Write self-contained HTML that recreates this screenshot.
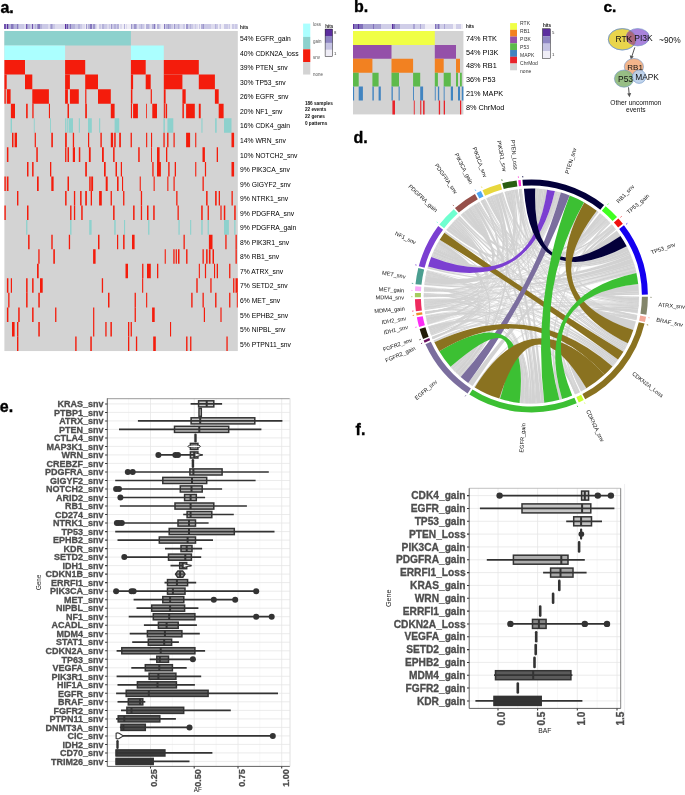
<!DOCTYPE html>
<html><head><meta charset="utf-8"><title>Figure</title>
<style>
html,body{margin:0;padding:0;background:#fff;}
svg{display:block;will-change:transform;}
svg text{font-family:"Liberation Sans",sans-serif;}
</style></head><body>
<svg width="685" height="795" viewBox="0 0 685 795">
<rect width="685" height="795" fill="#fff"/>
<g shape-rendering="crispEdges">
<rect x="4.40" y="24.1" width="1.30" height="5.2" fill="#7153AE"/>
<rect x="5.65" y="24.1" width="1.30" height="5.2" fill="#B5B2DA"/>
<rect x="6.91" y="24.1" width="1.30" height="5.2" fill="#5B2D9E"/>
<rect x="8.16" y="24.1" width="1.30" height="5.2" fill="#9E97CC"/>
<rect x="9.42" y="24.1" width="1.30" height="5.2" fill="#B5B2DA"/>
<rect x="10.67" y="24.1" width="1.30" height="5.2" fill="#8779BE"/>
<rect x="11.93" y="24.1" width="1.30" height="5.2" fill="#8779BE"/>
<rect x="13.18" y="24.1" width="1.30" height="5.2" fill="#9E97CC"/>
<rect x="14.44" y="24.1" width="1.30" height="5.2" fill="#B5B2DA"/>
<rect x="15.69" y="24.1" width="1.30" height="5.2" fill="#B5B2DA"/>
<rect x="16.95" y="24.1" width="1.30" height="5.2" fill="#8779BE"/>
<rect x="18.20" y="24.1" width="1.30" height="5.2" fill="#B5B2DA"/>
<rect x="19.46" y="24.1" width="1.30" height="5.2" fill="#CBC9E6"/>
<rect x="20.71" y="24.1" width="1.30" height="5.2" fill="#CBC9E6"/>
<rect x="21.97" y="24.1" width="1.30" height="5.2" fill="#CBC9E6"/>
<rect x="23.22" y="24.1" width="1.30" height="5.2" fill="#CBC9E6"/>
<rect x="24.48" y="24.1" width="1.30" height="5.2" fill="#DDDBEE"/>
<rect x="25.73" y="24.1" width="1.30" height="5.2" fill="#7153AE"/>
<rect x="26.99" y="24.1" width="1.30" height="5.2" fill="#9E97CC"/>
<rect x="28.24" y="24.1" width="1.30" height="5.2" fill="#B5B2DA"/>
<rect x="29.50" y="24.1" width="1.30" height="5.2" fill="#CBC9E6"/>
<rect x="30.75" y="24.1" width="1.30" height="5.2" fill="#CBC9E6"/>
<rect x="32.01" y="24.1" width="1.30" height="5.2" fill="#7153AE"/>
<rect x="33.26" y="24.1" width="1.30" height="5.2" fill="#CBC9E6"/>
<rect x="34.52" y="24.1" width="1.30" height="5.2" fill="#B5B2DA"/>
<rect x="35.77" y="24.1" width="1.30" height="5.2" fill="#CBC9E6"/>
<rect x="37.03" y="24.1" width="1.30" height="5.2" fill="#9E97CC"/>
<rect x="38.28" y="24.1" width="1.30" height="5.2" fill="#8779BE"/>
<rect x="39.54" y="24.1" width="1.30" height="5.2" fill="#B5B2DA"/>
<rect x="40.79" y="24.1" width="1.30" height="5.2" fill="#B5B2DA"/>
<rect x="42.05" y="24.1" width="1.30" height="5.2" fill="#CBC9E6"/>
<rect x="43.30" y="24.1" width="1.30" height="5.2" fill="#CBC9E6"/>
<rect x="44.55" y="24.1" width="1.30" height="5.2" fill="#CBC9E6"/>
<rect x="45.81" y="24.1" width="1.30" height="5.2" fill="#CBC9E6"/>
<rect x="47.06" y="24.1" width="1.30" height="5.2" fill="#CBC9E6"/>
<rect x="48.32" y="24.1" width="1.30" height="5.2" fill="#DDDBEE"/>
<rect x="49.57" y="24.1" width="1.30" height="5.2" fill="#B5B2DA"/>
<rect x="50.83" y="24.1" width="1.30" height="5.2" fill="#9E97CC"/>
<rect x="52.08" y="24.1" width="1.30" height="5.2" fill="#B5B2DA"/>
<rect x="53.34" y="24.1" width="1.30" height="5.2" fill="#CBC9E6"/>
<rect x="54.59" y="24.1" width="1.30" height="5.2" fill="#DDDBEE"/>
<rect x="55.85" y="24.1" width="1.30" height="5.2" fill="#DDDBEE"/>
<rect x="57.10" y="24.1" width="1.30" height="5.2" fill="#DDDBEE"/>
<rect x="58.36" y="24.1" width="1.30" height="5.2" fill="#DDDBEE"/>
<rect x="59.61" y="24.1" width="1.30" height="5.2" fill="#DDDBEE"/>
<rect x="60.87" y="24.1" width="1.30" height="5.2" fill="#DDDBEE"/>
<rect x="62.12" y="24.1" width="1.30" height="5.2" fill="#DDDBEE"/>
<rect x="63.38" y="24.1" width="1.30" height="5.2" fill="#DDDBEE"/>
<rect x="64.63" y="24.1" width="1.30" height="5.2" fill="#5B2D9E"/>
<rect x="65.89" y="24.1" width="1.30" height="5.2" fill="#9E97CC"/>
<rect x="67.14" y="24.1" width="1.30" height="5.2" fill="#7153AE"/>
<rect x="68.40" y="24.1" width="1.30" height="5.2" fill="#B5B2DA"/>
<rect x="69.65" y="24.1" width="1.30" height="5.2" fill="#8779BE"/>
<rect x="70.91" y="24.1" width="1.30" height="5.2" fill="#B5B2DA"/>
<rect x="72.16" y="24.1" width="1.30" height="5.2" fill="#B5B2DA"/>
<rect x="73.42" y="24.1" width="1.30" height="5.2" fill="#B5B2DA"/>
<rect x="74.67" y="24.1" width="1.30" height="5.2" fill="#CBC9E6"/>
<rect x="75.93" y="24.1" width="1.30" height="5.2" fill="#CBC9E6"/>
<rect x="77.18" y="24.1" width="1.30" height="5.2" fill="#CBC9E6"/>
<rect x="78.44" y="24.1" width="1.30" height="5.2" fill="#B5B2DA"/>
<rect x="79.69" y="24.1" width="1.30" height="5.2" fill="#CBC9E6"/>
<rect x="80.95" y="24.1" width="1.30" height="5.2" fill="#CBC9E6"/>
<rect x="82.20" y="24.1" width="1.30" height="5.2" fill="#DDDBEE"/>
<rect x="83.45" y="24.1" width="1.30" height="5.2" fill="#DDDBEE"/>
<rect x="84.71" y="24.1" width="1.30" height="5.2" fill="#EFEDF6"/>
<rect x="85.96" y="24.1" width="1.30" height="5.2" fill="#9E97CC"/>
<rect x="87.22" y="24.1" width="1.30" height="5.2" fill="#DDDBEE"/>
<rect x="88.47" y="24.1" width="1.30" height="5.2" fill="#B5B2DA"/>
<rect x="89.73" y="24.1" width="1.30" height="5.2" fill="#8779BE"/>
<rect x="90.98" y="24.1" width="1.30" height="5.2" fill="#8779BE"/>
<rect x="92.24" y="24.1" width="1.30" height="5.2" fill="#CBC9E6"/>
<rect x="93.49" y="24.1" width="1.30" height="5.2" fill="#9E97CC"/>
<rect x="94.75" y="24.1" width="1.30" height="5.2" fill="#CBC9E6"/>
<rect x="96.00" y="24.1" width="1.30" height="5.2" fill="#DDDBEE"/>
<rect x="97.26" y="24.1" width="1.30" height="5.2" fill="#EFEDF6"/>
<rect x="98.51" y="24.1" width="1.30" height="5.2" fill="#CBC9E6"/>
<rect x="99.77" y="24.1" width="1.30" height="5.2" fill="#CBC9E6"/>
<rect x="101.02" y="24.1" width="1.30" height="5.2" fill="#DDDBEE"/>
<rect x="102.28" y="24.1" width="1.30" height="5.2" fill="#B5B2DA"/>
<rect x="103.53" y="24.1" width="1.30" height="5.2" fill="#CBC9E6"/>
<rect x="104.79" y="24.1" width="1.30" height="5.2" fill="#CBC9E6"/>
<rect x="106.04" y="24.1" width="1.30" height="5.2" fill="#CBC9E6"/>
<rect x="107.30" y="24.1" width="1.30" height="5.2" fill="#DDDBEE"/>
<rect x="108.55" y="24.1" width="1.30" height="5.2" fill="#CBC9E6"/>
<rect x="109.81" y="24.1" width="1.30" height="5.2" fill="#DDDBEE"/>
<rect x="111.06" y="24.1" width="1.30" height="5.2" fill="#9E97CC"/>
<rect x="112.32" y="24.1" width="1.30" height="5.2" fill="#CBC9E6"/>
<rect x="113.57" y="24.1" width="1.30" height="5.2" fill="#B5B2DA"/>
<rect x="114.83" y="24.1" width="1.30" height="5.2" fill="#B5B2DA"/>
<rect x="116.08" y="24.1" width="1.30" height="5.2" fill="#CBC9E6"/>
<rect x="117.34" y="24.1" width="1.30" height="5.2" fill="#B5B2DA"/>
<rect x="118.59" y="24.1" width="1.30" height="5.2" fill="#EFEDF6"/>
<rect x="119.85" y="24.1" width="1.30" height="5.2" fill="#DDDBEE"/>
<rect x="121.10" y="24.1" width="1.30" height="5.2" fill="#DDDBEE"/>
<rect x="122.35" y="24.1" width="1.30" height="5.2" fill="#EFEDF6"/>
<rect x="123.61" y="24.1" width="1.30" height="5.2" fill="#B5B2DA"/>
<rect x="124.86" y="24.1" width="1.30" height="5.2" fill="#EFEDF6"/>
<rect x="126.12" y="24.1" width="1.30" height="5.2" fill="#DDDBEE"/>
<rect x="127.37" y="24.1" width="1.30" height="5.2" fill="#EFEDF6"/>
<rect x="128.63" y="24.1" width="1.30" height="5.2" fill="#EFEDF6"/>
<rect x="129.88" y="24.1" width="1.30" height="5.2" fill="#EFEDF6"/>
<rect x="131.14" y="24.1" width="1.30" height="5.2" fill="#9E97CC"/>
<rect x="132.39" y="24.1" width="1.30" height="5.2" fill="#CBC9E6"/>
<rect x="133.65" y="24.1" width="1.30" height="5.2" fill="#9E97CC"/>
<rect x="134.90" y="24.1" width="1.30" height="5.2" fill="#9E97CC"/>
<rect x="136.16" y="24.1" width="1.30" height="5.2" fill="#B5B2DA"/>
<rect x="137.41" y="24.1" width="1.30" height="5.2" fill="#DDDBEE"/>
<rect x="138.67" y="24.1" width="1.30" height="5.2" fill="#CBC9E6"/>
<rect x="139.92" y="24.1" width="1.30" height="5.2" fill="#CBC9E6"/>
<rect x="141.18" y="24.1" width="1.30" height="5.2" fill="#B5B2DA"/>
<rect x="142.43" y="24.1" width="1.30" height="5.2" fill="#CBC9E6"/>
<rect x="143.69" y="24.1" width="1.30" height="5.2" fill="#DDDBEE"/>
<rect x="144.94" y="24.1" width="1.30" height="5.2" fill="#EFEDF6"/>
<rect x="146.20" y="24.1" width="1.30" height="5.2" fill="#B5B2DA"/>
<rect x="147.45" y="24.1" width="1.30" height="5.2" fill="#B5B2DA"/>
<rect x="148.71" y="24.1" width="1.30" height="5.2" fill="#CBC9E6"/>
<rect x="149.96" y="24.1" width="1.30" height="5.2" fill="#DDDBEE"/>
<rect x="151.22" y="24.1" width="1.30" height="5.2" fill="#DDDBEE"/>
<rect x="152.47" y="24.1" width="1.30" height="5.2" fill="#B5B2DA"/>
<rect x="153.73" y="24.1" width="1.30" height="5.2" fill="#8779BE"/>
<rect x="154.98" y="24.1" width="1.30" height="5.2" fill="#CBC9E6"/>
<rect x="156.24" y="24.1" width="1.30" height="5.2" fill="#EFEDF6"/>
<rect x="157.49" y="24.1" width="1.30" height="5.2" fill="#B5B2DA"/>
<rect x="158.75" y="24.1" width="1.30" height="5.2" fill="#CBC9E6"/>
<rect x="160.00" y="24.1" width="1.30" height="5.2" fill="#DDDBEE"/>
<rect x="161.25" y="24.1" width="1.30" height="5.2" fill="#EFEDF6"/>
<rect x="162.51" y="24.1" width="1.30" height="5.2" fill="#EFEDF6"/>
<rect x="163.76" y="24.1" width="1.30" height="5.2" fill="#8779BE"/>
<rect x="165.02" y="24.1" width="1.30" height="5.2" fill="#CBC9E6"/>
<rect x="166.27" y="24.1" width="1.30" height="5.2" fill="#B5B2DA"/>
<rect x="167.53" y="24.1" width="1.30" height="5.2" fill="#9E97CC"/>
<rect x="168.78" y="24.1" width="1.30" height="5.2" fill="#B5B2DA"/>
<rect x="170.04" y="24.1" width="1.30" height="5.2" fill="#B5B2DA"/>
<rect x="171.29" y="24.1" width="1.30" height="5.2" fill="#CBC9E6"/>
<rect x="172.55" y="24.1" width="1.30" height="5.2" fill="#DDDBEE"/>
<rect x="173.80" y="24.1" width="1.30" height="5.2" fill="#9E97CC"/>
<rect x="175.06" y="24.1" width="1.30" height="5.2" fill="#CBC9E6"/>
<rect x="176.31" y="24.1" width="1.30" height="5.2" fill="#CBC9E6"/>
<rect x="177.57" y="24.1" width="1.30" height="5.2" fill="#B5B2DA"/>
<rect x="178.82" y="24.1" width="1.30" height="5.2" fill="#CBC9E6"/>
<rect x="180.08" y="24.1" width="1.30" height="5.2" fill="#DDDBEE"/>
<rect x="181.33" y="24.1" width="1.30" height="5.2" fill="#DDDBEE"/>
<rect x="182.59" y="24.1" width="1.30" height="5.2" fill="#CBC9E6"/>
<rect x="183.84" y="24.1" width="1.30" height="5.2" fill="#CBC9E6"/>
<rect x="185.10" y="24.1" width="1.30" height="5.2" fill="#EFEDF6"/>
<rect x="186.35" y="24.1" width="1.30" height="5.2" fill="#9E97CC"/>
<rect x="187.61" y="24.1" width="1.30" height="5.2" fill="#CBC9E6"/>
<rect x="188.86" y="24.1" width="1.30" height="5.2" fill="#CBC9E6"/>
<rect x="190.12" y="24.1" width="1.30" height="5.2" fill="#B5B2DA"/>
<rect x="191.37" y="24.1" width="1.30" height="5.2" fill="#CBC9E6"/>
<rect x="192.63" y="24.1" width="1.30" height="5.2" fill="#DDDBEE"/>
<rect x="193.88" y="24.1" width="1.30" height="5.2" fill="#DDDBEE"/>
<rect x="195.14" y="24.1" width="1.30" height="5.2" fill="#CBC9E6"/>
<rect x="196.39" y="24.1" width="1.30" height="5.2" fill="#DDDBEE"/>
<rect x="197.65" y="24.1" width="1.30" height="5.2" fill="#EFEDF6"/>
<rect x="198.90" y="24.1" width="1.30" height="5.2" fill="#CBC9E6"/>
<rect x="200.15" y="24.1" width="1.30" height="5.2" fill="#EFEDF6"/>
<rect x="201.41" y="24.1" width="1.30" height="5.2" fill="#B5B2DA"/>
<rect x="202.66" y="24.1" width="1.30" height="5.2" fill="#9E97CC"/>
<rect x="203.92" y="24.1" width="1.30" height="5.2" fill="#CBC9E6"/>
<rect x="205.17" y="24.1" width="1.30" height="5.2" fill="#CBC9E6"/>
<rect x="206.43" y="24.1" width="1.30" height="5.2" fill="#CBC9E6"/>
<rect x="207.68" y="24.1" width="1.30" height="5.2" fill="#CBC9E6"/>
<rect x="208.94" y="24.1" width="1.30" height="5.2" fill="#CBC9E6"/>
<rect x="210.19" y="24.1" width="1.30" height="5.2" fill="#CBC9E6"/>
<rect x="211.45" y="24.1" width="1.30" height="5.2" fill="#DDDBEE"/>
<rect x="212.70" y="24.1" width="1.30" height="5.2" fill="#DDDBEE"/>
<rect x="213.96" y="24.1" width="1.30" height="5.2" fill="#DDDBEE"/>
<rect x="215.21" y="24.1" width="1.30" height="5.2" fill="#B5B2DA"/>
<rect x="216.47" y="24.1" width="1.30" height="5.2" fill="#CBC9E6"/>
<rect x="217.72" y="24.1" width="1.30" height="5.2" fill="#EFEDF6"/>
<rect x="218.98" y="24.1" width="1.30" height="5.2" fill="#DDDBEE"/>
<rect x="220.23" y="24.1" width="1.30" height="5.2" fill="#CBC9E6"/>
<rect x="221.49" y="24.1" width="1.30" height="5.2" fill="#EFEDF6"/>
<rect x="222.74" y="24.1" width="1.30" height="5.2" fill="#EFEDF6"/>
<rect x="224.00" y="24.1" width="1.30" height="5.2" fill="#CBC9E6"/>
<rect x="225.25" y="24.1" width="1.30" height="5.2" fill="#CBC9E6"/>
<rect x="226.51" y="24.1" width="1.30" height="5.2" fill="#CBC9E6"/>
<rect x="227.76" y="24.1" width="1.30" height="5.2" fill="#DDDBEE"/>
<rect x="229.02" y="24.1" width="1.30" height="5.2" fill="#CBC9E6"/>
<rect x="230.27" y="24.1" width="1.30" height="5.2" fill="#EFEDF6"/>
<rect x="231.53" y="24.1" width="1.30" height="5.2" fill="#CBC9E6"/>
<rect x="232.78" y="24.1" width="1.30" height="5.2" fill="#CBC9E6"/>
<rect x="234.04" y="24.1" width="1.30" height="5.2" fill="#DDDBEE"/>
<rect x="235.29" y="24.1" width="1.30" height="5.2" fill="#CBC9E6"/>
<rect x="236.55" y="24.1" width="1.30" height="5.2" fill="#DDDBEE"/>
</g>
<rect x="4.4" y="30.95" width="233.4" height="320.1" fill="#D3D3D3"/>
<path d="M4.4 30.95h126.5v14.55h-126.5z" fill="#8DD1CD"/>
<text x="240.1" y="41.1" font-size="6.75" fill="#000">54% EGFR_gain</text>
<path d="M4.4 45.50h60.7v14.55h-60.7zM130.9 45.50h32.9v14.55h-32.9z" fill="#ABFFFF"/>
<text x="240.1" y="55.6" font-size="6.75" fill="#000">40% CDKN2A_loss</text>
<path d="M4.4 60.05h20.6v14.55h-20.6zM65.1 60.05h20.1v14.55h-20.1zM130.9 60.05h14.8v14.55h-14.8zM163.8 60.05h35.0v14.55h-35.0z" fill="#F41C0C"/>
<text x="240.1" y="70.2" font-size="6.75" fill="#000">39% PTEN_snv</text>
<path d="M4.4 74.60h2.3v14.55h-2.3zM25.0 74.60h7.3v14.55h-7.3zM65.1 74.60h4.8v14.55h-4.8zM85.2 74.60h12.8v14.55h-12.8zM130.9 74.60h2.2v14.55h-2.2zM145.7 74.60h5.0v14.55h-5.0zM163.8 74.60h18.6v14.55h-18.6zM198.8 74.60h16.1v14.55h-16.1z" fill="#F41C0C"/>
<text x="240.1" y="84.7" font-size="6.75" fill="#000">30% TP53_snv</text>
<path d="M4.4 89.15h1.4v14.55h-1.4zM6.8 89.15h3.8v14.55h-3.8zM32.3 89.15h16.6v14.55h-16.6zM65.1 89.15h2.8v14.55h-2.8zM69.9 89.15h8.9v14.55h-8.9zM85.2 89.15h1.2v14.55h-1.2zM98.0 89.15h12.8v14.55h-12.8zM130.9 89.15h1.5v14.55h-1.5zM150.7 89.15h1.2v14.55h-1.2zM163.8 89.15h1.8v14.55h-1.8zM182.4 89.15h3.3v14.55h-3.3zM214.9 89.15h3.8v14.55h-3.8z" fill="#F41C0C"/>
<text x="240.1" y="99.3" font-size="6.75" fill="#000">26% EGFR_snv</text>
<path d="M10.9 103.70h4.1v14.55h-4.1zM26.1 103.70h1.6v14.55h-1.6zM32.3 103.70h1.3v14.55h-1.3zM48.9 103.70h1.1v14.55h-1.1zM67.5 103.70h1.5v14.55h-1.5zM85.2 103.70h1.7v14.55h-1.7zM110.8 103.70h3.8v14.55h-3.8zM130.9 103.70h1.1v14.55h-1.1zM133.1 103.70h4.8v14.55h-4.8zM146.1 103.70h0.8v14.55h-0.8zM152.3 103.70h4.7v14.55h-4.7zM163.8 103.70h1.1v14.55h-1.1zM165.6 103.70h1.5v14.55h-1.5zM182.4 103.70h1.5v14.55h-1.5zM186.1 103.70h8.7v14.55h-8.7zM198.8 103.70h1.9v14.55h-1.9zM218.7 103.70h4.9v14.55h-4.9z" fill="#F41C0C"/>
<text x="240.1" y="113.8" font-size="6.75" fill="#000">20% NF1_snv</text>
<path d="M10.6 118.25h1.4v14.55h-1.4zM33.8 118.25h0.9v14.55h-0.9zM50.0 118.25h0.9v14.55h-0.9zM65.1 118.25h1.3v14.55h-1.3zM67.2 118.25h1.2v14.55h-1.2zM69.0 118.25h4.0v14.55h-4.0zM78.8 118.25h1.1v14.55h-1.1zM88.0 118.25h3.8v14.55h-3.8zM99.1 118.25h1.1v14.55h-1.1zM114.6 118.25h4.6v14.55h-4.6zM163.4 118.25h1.5v14.55h-1.5zM167.4 118.25h5.9v14.55h-5.9zM201.4 118.25h1.1v14.55h-1.1zM215.1 118.25h1.6v14.55h-1.6zM224.0 118.25h7.5v14.55h-7.5z" fill="#8DD1CD"/>
<text x="240.1" y="128.4" font-size="6.75" fill="#000">16% CDK4_gain</text>
<path d="M12.0 132.80h1.5v14.55h-1.5zM14.6 132.80h2.4v14.55h-2.4zM34.7 132.80h1.2v14.55h-1.2zM51.3 132.80h1.6v14.55h-1.6zM65.1 132.80h1.7v14.55h-1.7zM72.8 132.80h1.3v14.55h-1.3zM88.0 132.80h1.2v14.55h-1.2zM100.4 132.80h1.4v14.55h-1.4zM110.8 132.80h2.3v14.55h-2.3zM114.2 132.80h1.5v14.55h-1.5zM119.2 132.80h1.7v14.55h-1.7zM130.6 132.80h1.3v14.55h-1.3zM146.1 132.80h1.1v14.55h-1.1zM151.0 132.80h1.1v14.55h-1.1zM163.4 132.80h1.3v14.55h-1.3zM167.1 132.80h1.4v14.55h-1.4zM173.5 132.80h1.2v14.55h-1.2zM186.1 132.80h4.0v14.55h-4.0zM195.2 132.80h1.1v14.55h-1.1zM231.5 132.80h2.6v14.55h-2.6z" fill="#F41C0C"/>
<text x="240.1" y="142.9" font-size="6.75" fill="#000">14% WRN_snv</text>
<path d="M6.9 147.35h1.5v14.55h-1.5zM36.3 147.35h1.5v14.55h-1.5zM65.1 147.35h1.3v14.55h-1.3zM67.5 147.35h1.5v14.55h-1.5zM72.8 147.35h2.2v14.55h-2.2zM78.8 147.35h1.5v14.55h-1.5zM88.9 147.35h1.8v14.55h-1.8zM102.0 147.35h1.8v14.55h-1.8zM113.1 147.35h1.5v14.55h-1.5zM138.2 147.35h1.5v14.55h-1.5zM151.0 147.35h0.9v14.55h-0.9zM157.0 147.35h2.6v14.55h-2.6zM166.0 147.35h1.3v14.55h-1.3zM202.5 147.35h2.4v14.55h-2.4zM216.7 147.35h1.3v14.55h-1.3z" fill="#F41C0C"/>
<text x="240.1" y="157.5" font-size="6.75" fill="#000">10% NOTCH2_snv</text>
<path d="M27.0 161.90h1.5v14.55h-1.5zM32.1 161.90h1.5v14.55h-1.5zM50.0 161.90h1.3v14.55h-1.3zM85.2 161.90h1.7v14.55h-1.7zM104.0 161.90h1.7v14.55h-1.7zM115.5 161.90h1.5v14.55h-1.5zM120.8 161.90h1.2v14.55h-1.2zM152.3 161.90h1.3v14.55h-1.3zM157.0 161.90h3.9v14.55h-3.9zM168.2 161.90h1.4v14.55h-1.4zM174.7 161.90h1.3v14.55h-1.3zM195.2 161.90h1.1v14.55h-1.1zM204.9 161.90h1.2v14.55h-1.2zM231.5 161.90h2.6v14.55h-2.6z" fill="#F41C0C"/>
<text x="240.1" y="172.0" font-size="6.75" fill="#000">9% PIK3CA_snv</text>
<path d="M4.4 176.45h1.4v14.55h-1.4zM6.8 176.45h1.7v14.55h-1.7zM37.0 176.45h1.7v14.55h-1.7zM51.3 176.45h2.3v14.55h-2.3zM67.5 176.45h1.5v14.55h-1.5zM89.2 176.45h1.5v14.55h-1.5zM91.2 176.45h1.9v14.55h-1.9zM105.7 176.45h2.0v14.55h-2.0zM117.0 176.45h1.6v14.55h-1.6zM122.0 176.45h1.1v14.55h-1.1zM139.7 176.45h1.1v14.55h-1.1zM153.6 176.45h1.1v14.55h-1.1zM167.3 176.45h1.1v14.55h-1.1zM173.5 176.45h1.2v14.55h-1.2zM202.5 176.45h1.3v14.55h-1.3z" fill="#F41C0C"/>
<text x="240.1" y="186.6" font-size="6.75" fill="#000">9% GIGYF2_snv</text>
<path d="M17.0 191.00h1.4v14.55h-1.4zM65.1 191.00h1.5v14.55h-1.5zM73.9 191.00h1.3v14.55h-1.3zM80.1 191.00h1.5v14.55h-1.5zM85.2 191.00h1.7v14.55h-1.7zM90.7 191.00h1.3v14.55h-1.3zM99.1 191.00h2.7v14.55h-2.7zM110.6 191.00h1.3v14.55h-1.3zM123.1 191.00h1.3v14.55h-1.3zM140.8 191.00h1.3v14.55h-1.3zM176.2 191.00h1.3v14.55h-1.3zM206.1 191.00h1.5v14.55h-1.5zM215.1 191.00h1.6v14.55h-1.6zM218.7 191.00h1.3v14.55h-1.3zM231.5 191.00h1.3v14.55h-1.3z" fill="#F41C0C"/>
<text x="240.1" y="201.1" font-size="6.75" fill="#000">9% NTRK1_snv</text>
<path d="M4.4 205.55h1.4v14.55h-1.4zM27.0 205.55h1.5v14.55h-1.5zM70.1 205.55h1.4v14.55h-1.4zM73.9 205.55h1.3v14.55h-1.3zM81.2 205.55h1.5v14.55h-1.5zM113.1 205.55h1.5v14.55h-1.5zM133.1 205.55h1.5v14.55h-1.5zM140.8 205.55h1.3v14.55h-1.3zM147.0 205.55h1.5v14.55h-1.5zM153.2 205.55h1.5v14.55h-1.5zM177.5 205.55h1.3v14.55h-1.3zM201.2 205.55h1.5v14.55h-1.5zM207.6 205.55h1.3v14.55h-1.3zM220.4 205.55h1.2v14.55h-1.2zM223.8 205.55h1.5v14.55h-1.5zM234.2 205.55h1.5v14.55h-1.5z" fill="#F41C0C"/>
<text x="240.1" y="215.7" font-size="6.75" fill="#000">9% PDGFRA_snv</text>
<path d="M26.1 220.10h1.3v14.55h-1.3zM70.1 220.10h1.4v14.55h-1.4zM89.2 220.10h2.4v14.55h-2.4zM114.2 220.10h1.5v14.55h-1.5zM124.0 220.10h1.1v14.55h-1.1zM148.1 220.10h1.3v14.55h-1.3zM178.4 220.10h1.3v14.55h-1.3zM190.1 220.10h1.1v14.55h-1.1zM201.2 220.10h1.5v14.55h-1.5zM207.6 220.10h1.3v14.55h-1.3zM224.0 220.10h4.9v14.55h-4.9zM234.2 220.10h1.3v14.55h-1.3z" fill="#8DD1CD"/>
<text x="240.1" y="230.2" font-size="6.75" fill="#000">9% PDGFRA_gain</text>
<path d="M28.1 234.65h1.5v14.55h-1.5zM51.3 234.65h1.4v14.55h-1.4zM68.8 234.65h1.3v14.55h-1.3zM98.0 234.65h1.5v14.55h-1.5zM117.0 234.65h1.2v14.55h-1.2zM123.1 234.65h1.5v14.55h-1.5zM132.0 234.65h2.6v14.55h-2.6zM183.5 234.65h1.3v14.55h-1.3zM208.9 234.65h3.6v14.55h-3.6zM225.3 234.65h1.3v14.55h-1.3zM235.5 234.65h1.3v14.55h-1.3z" fill="#F41C0C"/>
<text x="240.1" y="244.8" font-size="6.75" fill="#000">8% PIK3R1_snv</text>
<path d="M38.3 249.20h1.3v14.55h-1.3zM53.3 249.20h1.6v14.55h-1.6zM93.1 249.20h2.5v14.55h-2.5zM164.7 249.20h1.1v14.55h-1.1zM173.3 249.20h1.3v14.55h-1.3zM175.7 249.20h1.2v14.55h-1.2zM178.0 249.20h1.5v14.55h-1.5zM186.1 249.20h1.4v14.55h-1.4zM202.5 249.20h1.3v14.55h-1.3zM206.1 249.20h1.5v14.55h-1.5zM208.9 249.20h1.6v14.55h-1.6zM212.5 249.20h1.5v14.55h-1.5zM235.5 249.20h1.3v14.55h-1.3z" fill="#F41C0C"/>
<text x="240.1" y="259.3" font-size="6.75" fill="#000">8% RB1_snv</text>
<path d="M37.0 263.75h1.7v14.55h-1.7zM125.5 263.75h2.5v14.55h-2.5zM142.1 263.75h1.3v14.55h-1.3zM147.0 263.75h3.8v14.55h-3.8zM157.0 263.75h1.3v14.55h-1.3zM198.8 263.75h1.1v14.55h-1.1zM204.9 263.75h1.2v14.55h-1.2zM214.0 263.75h1.1v14.55h-1.1zM216.7 263.75h1.3v14.55h-1.3zM229.1 263.75h1.3v14.55h-1.3z" fill="#F41C0C"/>
<text x="240.1" y="273.9" font-size="6.75" fill="#000">7% ATRX_snv</text>
<path d="M6.9 278.30h1.5v14.55h-1.5zM10.8 278.30h1.2v14.55h-1.2zM26.1 278.30h1.5v14.55h-1.5zM32.1 278.30h1.5v14.55h-1.5zM40.0 278.30h2.7v14.55h-2.7zM101.8 278.30h1.3v14.55h-1.3zM142.1 278.30h1.1v14.55h-1.1zM196.3 278.30h1.4v14.55h-1.4zM210.3 278.30h1.3v14.55h-1.3zM233.1 278.30h1.3v14.55h-1.3zM235.5 278.30h2.3v14.55h-2.3z" fill="#F41C0C"/>
<text x="240.1" y="288.4" font-size="6.75" fill="#000">7% SETD2_snv</text>
<path d="M8.2 292.85h1.3v14.55h-1.3zM26.1 292.85h1.5v14.55h-1.5zM38.3 292.85h1.5v14.55h-1.5zM108.0 292.85h1.5v14.55h-1.5zM134.6 292.85h1.3v14.55h-1.3zM146.1 292.85h1.1v14.55h-1.1zM191.2 292.85h1.4v14.55h-1.4zM202.5 292.85h1.3v14.55h-1.3zM215.1 292.85h1.4v14.55h-1.4zM229.1 292.85h1.3v14.55h-1.3zM236.8 292.85h1.0v14.55h-1.0z" fill="#F41C0C"/>
<text x="240.1" y="303.0" font-size="6.75" fill="#000">6% MET_snv</text>
<path d="M6.9 307.40h1.5v14.55h-1.5zM18.2 307.40h1.5v14.55h-1.5zM32.1 307.40h1.5v14.55h-1.5zM55.1 307.40h1.3v14.55h-1.3zM93.1 307.40h1.2v14.55h-1.2zM134.6 307.40h1.3v14.55h-1.3zM152.1 307.40h2.6v14.55h-2.6zM203.8 307.40h1.2v14.55h-1.2zM220.4 307.40h1.2v14.55h-1.2z" fill="#F41C0C"/>
<text x="240.1" y="317.5" font-size="6.75" fill="#000">5% EPHB2_snv</text>
<path d="M12.0 321.95h2.6v14.55h-2.6zM17.0 321.95h1.4v14.55h-1.4zM38.3 321.95h1.5v14.55h-1.5zM93.1 321.95h1.2v14.55h-1.2zM105.3 321.95h1.3v14.55h-1.3zM110.4 321.95h1.5v14.55h-1.5zM128.0 321.95h1.3v14.55h-1.3zM130.6 321.95h1.3v14.55h-1.3zM170.0 321.95h1.1v14.55h-1.1z" fill="#F41C0C"/>
<text x="240.1" y="332.1" font-size="6.75" fill="#000">5% NIPBL_snv</text>
<path d="M17.0 336.50h1.4v14.55h-1.4zM75.2 336.50h1.4v14.55h-1.4zM90.3 336.50h1.5v14.55h-1.5zM128.0 336.50h1.3v14.55h-1.3zM135.9 336.50h1.3v14.55h-1.3zM153.2 336.50h2.6v14.55h-2.6zM186.1 336.50h1.4v14.55h-1.4zM190.1 336.50h1.3v14.55h-1.3zM226.4 336.50h1.3v14.55h-1.3z" fill="#F41C0C"/>
<text x="240.1" y="346.6" font-size="6.75" fill="#000">5% PTPN11_snv</text>
<text x="240.1" y="28.9" font-size="4.6" font-weight="bold" fill="#111">hits</text>
<rect x="303.1" y="23.6" width="7.2" height="13.35" fill="#ABFFFF"/>
<rect x="303.1" y="36.9" width="7.2" height="12.45" fill="#8DD1CD"/>
<rect x="303.1" y="49.3" width="7.2" height="12.75" fill="#F41C0C"/>
<rect x="303.1" y="62.0" width="7.2" height="12.55" fill="#D3D3D3"/>
<text x="313.1" y="25.7" font-size="4.45" fill="#555">loss</text>
<text x="313.1" y="42.8" font-size="4.45" fill="#555">gain</text>
<text x="313.1" y="59.4" font-size="4.45" fill="#555">snv</text>
<text x="313.1" y="76.3" font-size="4.45" fill="#555">none</text>
<text x="325.3" y="27.5" font-size="4.5" font-weight="bold" fill="#111">hits</text>
<rect x="325.1" y="29.05" width="7.4" height="7" fill="#5B2D9E"/>
<rect x="325.1" y="35.96" width="7.4" height="7" fill="#8E86C3"/>
<rect x="325.1" y="42.87" width="7.4" height="7" fill="#C5C3E3"/>
<rect x="325.1" y="49.78" width="7.4" height="7" fill="#EFEDF6"/>
<rect x="325.1" y="29.05" width="7.4" height="27.65" fill="none" stroke="#000" stroke-width="0.45"/>
<text x="334.1" y="33.9" font-size="4.3" fill="#333">8</text>
<text x="334.1" y="54.6" font-size="4.3" fill="#333">1</text>
<text x="304.9" y="104.5" font-size="4.7" font-weight="bold" fill="#111">186 samples</text>
<text x="304.9" y="111.3" font-size="4.7" font-weight="bold" fill="#111">22 events</text>
<text x="304.9" y="118.1" font-size="4.7" font-weight="bold" fill="#111">22 genes</text>
<text x="304.9" y="124.9" font-size="4.7" font-weight="bold" fill="#111">0 patterns</text>
<text x="0.4" y="13.1" font-size="16" font-weight="bold" fill="#000" stroke="#000" stroke-width="0.35">a.</text>
<g shape-rendering="crispEdges">
<rect x="353.00" y="24.1" width="0.64" height="5.0" fill="#5B2D9E"/>
<rect x="353.59" y="24.1" width="0.64" height="5.0" fill="#5B2D9E"/>
<rect x="354.19" y="24.1" width="0.64" height="5.0" fill="#8170BA"/>
<rect x="354.78" y="24.1" width="0.64" height="5.0" fill="#8170BA"/>
<rect x="355.37" y="24.1" width="0.64" height="5.0" fill="#8170BA"/>
<rect x="355.97" y="24.1" width="0.64" height="5.0" fill="#8170BA"/>
<rect x="356.56" y="24.1" width="0.64" height="5.0" fill="#8170BA"/>
<rect x="357.15" y="24.1" width="0.64" height="5.0" fill="#8170BA"/>
<rect x="357.75" y="24.1" width="0.64" height="5.0" fill="#8170BA"/>
<rect x="358.34" y="24.1" width="0.64" height="5.0" fill="#5B2D9E"/>
<rect x="358.94" y="24.1" width="0.64" height="5.0" fill="#8170BA"/>
<rect x="359.53" y="24.1" width="0.64" height="5.0" fill="#8170BA"/>
<rect x="360.12" y="24.1" width="0.64" height="5.0" fill="#8170BA"/>
<rect x="360.72" y="24.1" width="0.64" height="5.0" fill="#8170BA"/>
<rect x="361.31" y="24.1" width="0.64" height="5.0" fill="#8170BA"/>
<rect x="361.90" y="24.1" width="0.64" height="5.0" fill="#8170BA"/>
<rect x="362.50" y="24.1" width="0.64" height="5.0" fill="#8170BA"/>
<rect x="363.09" y="24.1" width="0.64" height="5.0" fill="#AAA4D3"/>
<rect x="363.68" y="24.1" width="0.64" height="5.0" fill="#AAA4D3"/>
<rect x="364.28" y="24.1" width="0.64" height="5.0" fill="#AAA4D3"/>
<rect x="364.87" y="24.1" width="0.64" height="5.0" fill="#AAA4D3"/>
<rect x="365.46" y="24.1" width="0.64" height="5.0" fill="#AAA4D3"/>
<rect x="366.06" y="24.1" width="0.64" height="5.0" fill="#AAA4D3"/>
<rect x="366.65" y="24.1" width="0.64" height="5.0" fill="#AAA4D3"/>
<rect x="367.25" y="24.1" width="0.64" height="5.0" fill="#AAA4D3"/>
<rect x="367.84" y="24.1" width="0.64" height="5.0" fill="#AAA4D3"/>
<rect x="368.43" y="24.1" width="0.64" height="5.0" fill="#AAA4D3"/>
<rect x="369.03" y="24.1" width="0.64" height="5.0" fill="#AAA4D3"/>
<rect x="369.62" y="24.1" width="0.64" height="5.0" fill="#AAA4D3"/>
<rect x="370.21" y="24.1" width="0.64" height="5.0" fill="#AAA4D3"/>
<rect x="370.81" y="24.1" width="0.64" height="5.0" fill="#AAA4D3"/>
<rect x="371.40" y="24.1" width="0.64" height="5.0" fill="#AAA4D3"/>
<rect x="371.99" y="24.1" width="0.64" height="5.0" fill="#AAA4D3"/>
<rect x="372.59" y="24.1" width="0.64" height="5.0" fill="#8170BA"/>
<rect x="373.18" y="24.1" width="0.64" height="5.0" fill="#8170BA"/>
<rect x="373.77" y="24.1" width="0.64" height="5.0" fill="#AAA4D3"/>
<rect x="374.37" y="24.1" width="0.64" height="5.0" fill="#AAA4D3"/>
<rect x="374.96" y="24.1" width="0.64" height="5.0" fill="#AAA4D3"/>
<rect x="375.55" y="24.1" width="0.64" height="5.0" fill="#AAA4D3"/>
<rect x="376.15" y="24.1" width="0.64" height="5.0" fill="#AAA4D3"/>
<rect x="376.74" y="24.1" width="0.64" height="5.0" fill="#AAA4D3"/>
<rect x="377.34" y="24.1" width="0.64" height="5.0" fill="#AAA4D3"/>
<rect x="377.93" y="24.1" width="0.64" height="5.0" fill="#AAA4D3"/>
<rect x="378.52" y="24.1" width="0.64" height="5.0" fill="#AAA4D3"/>
<rect x="379.12" y="24.1" width="0.64" height="5.0" fill="#AAA4D3"/>
<rect x="379.71" y="24.1" width="0.64" height="5.0" fill="#AAA4D3"/>
<rect x="380.30" y="24.1" width="0.64" height="5.0" fill="#AAA4D3"/>
<rect x="380.90" y="24.1" width="0.64" height="5.0" fill="#D0CEE8"/>
<rect x="381.49" y="24.1" width="0.64" height="5.0" fill="#D0CEE8"/>
<rect x="382.08" y="24.1" width="0.64" height="5.0" fill="#D0CEE8"/>
<rect x="382.68" y="24.1" width="0.64" height="5.0" fill="#D0CEE8"/>
<rect x="383.27" y="24.1" width="0.64" height="5.0" fill="#D0CEE8"/>
<rect x="383.86" y="24.1" width="0.64" height="5.0" fill="#D0CEE8"/>
<rect x="384.46" y="24.1" width="0.64" height="5.0" fill="#D0CEE8"/>
<rect x="385.05" y="24.1" width="0.64" height="5.0" fill="#D0CEE8"/>
<rect x="385.65" y="24.1" width="0.64" height="5.0" fill="#D0CEE8"/>
<rect x="386.24" y="24.1" width="0.64" height="5.0" fill="#D0CEE8"/>
<rect x="386.83" y="24.1" width="0.64" height="5.0" fill="#D0CEE8"/>
<rect x="387.43" y="24.1" width="0.64" height="5.0" fill="#D0CEE8"/>
<rect x="388.02" y="24.1" width="0.64" height="5.0" fill="#D0CEE8"/>
<rect x="388.61" y="24.1" width="0.64" height="5.0" fill="#D0CEE8"/>
<rect x="389.21" y="24.1" width="0.64" height="5.0" fill="#D0CEE8"/>
<rect x="389.80" y="24.1" width="0.64" height="5.0" fill="#D0CEE8"/>
<rect x="390.39" y="24.1" width="0.64" height="5.0" fill="#D0CEE8"/>
<rect x="390.99" y="24.1" width="0.64" height="5.0" fill="#D0CEE8"/>
<rect x="391.58" y="24.1" width="0.64" height="5.0" fill="#8170BA"/>
<rect x="392.17" y="24.1" width="0.64" height="5.0" fill="#5B2D9E"/>
<rect x="392.77" y="24.1" width="0.64" height="5.0" fill="#8170BA"/>
<rect x="393.36" y="24.1" width="0.64" height="5.0" fill="#8170BA"/>
<rect x="393.95" y="24.1" width="0.64" height="5.0" fill="#8170BA"/>
<rect x="394.55" y="24.1" width="0.64" height="5.0" fill="#8170BA"/>
<rect x="395.14" y="24.1" width="0.64" height="5.0" fill="#AAA4D3"/>
<rect x="395.74" y="24.1" width="0.64" height="5.0" fill="#AAA4D3"/>
<rect x="396.33" y="24.1" width="0.64" height="5.0" fill="#AAA4D3"/>
<rect x="396.92" y="24.1" width="0.64" height="5.0" fill="#AAA4D3"/>
<rect x="397.52" y="24.1" width="0.64" height="5.0" fill="#AAA4D3"/>
<rect x="398.11" y="24.1" width="0.64" height="5.0" fill="#AAA4D3"/>
<rect x="398.70" y="24.1" width="0.64" height="5.0" fill="#8170BA"/>
<rect x="399.30" y="24.1" width="0.64" height="5.0" fill="#AAA4D3"/>
<rect x="399.89" y="24.1" width="0.64" height="5.0" fill="#D0CEE8"/>
<rect x="400.48" y="24.1" width="0.64" height="5.0" fill="#D0CEE8"/>
<rect x="401.08" y="24.1" width="0.64" height="5.0" fill="#D0CEE8"/>
<rect x="401.67" y="24.1" width="0.64" height="5.0" fill="#D0CEE8"/>
<rect x="402.26" y="24.1" width="0.64" height="5.0" fill="#D0CEE8"/>
<rect x="402.86" y="24.1" width="0.64" height="5.0" fill="#D0CEE8"/>
<rect x="403.45" y="24.1" width="0.64" height="5.0" fill="#D0CEE8"/>
<rect x="404.05" y="24.1" width="0.64" height="5.0" fill="#D0CEE8"/>
<rect x="404.64" y="24.1" width="0.64" height="5.0" fill="#D0CEE8"/>
<rect x="405.23" y="24.1" width="0.64" height="5.0" fill="#D0CEE8"/>
<rect x="405.83" y="24.1" width="0.64" height="5.0" fill="#D0CEE8"/>
<rect x="406.42" y="24.1" width="0.64" height="5.0" fill="#D0CEE8"/>
<rect x="407.01" y="24.1" width="0.64" height="5.0" fill="#D0CEE8"/>
<rect x="407.61" y="24.1" width="0.64" height="5.0" fill="#D0CEE8"/>
<rect x="408.20" y="24.1" width="0.64" height="5.0" fill="#D0CEE8"/>
<rect x="408.79" y="24.1" width="0.64" height="5.0" fill="#D0CEE8"/>
<rect x="409.39" y="24.1" width="0.64" height="5.0" fill="#D0CEE8"/>
<rect x="409.98" y="24.1" width="0.64" height="5.0" fill="#D0CEE8"/>
<rect x="410.57" y="24.1" width="0.64" height="5.0" fill="#D0CEE8"/>
<rect x="411.17" y="24.1" width="0.64" height="5.0" fill="#D0CEE8"/>
<rect x="411.76" y="24.1" width="0.64" height="5.0" fill="#D0CEE8"/>
<rect x="412.35" y="24.1" width="0.64" height="5.0" fill="#D0CEE8"/>
<rect x="412.95" y="24.1" width="0.64" height="5.0" fill="#AAA4D3"/>
<rect x="413.54" y="24.1" width="0.64" height="5.0" fill="#8170BA"/>
<rect x="414.14" y="24.1" width="0.64" height="5.0" fill="#AAA4D3"/>
<rect x="414.73" y="24.1" width="0.64" height="5.0" fill="#D0CEE8"/>
<rect x="415.32" y="24.1" width="0.64" height="5.0" fill="#D0CEE8"/>
<rect x="415.92" y="24.1" width="0.64" height="5.0" fill="#D0CEE8"/>
<rect x="416.51" y="24.1" width="0.64" height="5.0" fill="#D0CEE8"/>
<rect x="417.10" y="24.1" width="0.64" height="5.0" fill="#D0CEE8"/>
<rect x="417.70" y="24.1" width="0.64" height="5.0" fill="#D0CEE8"/>
<rect x="418.29" y="24.1" width="0.64" height="5.0" fill="#D0CEE8"/>
<rect x="418.88" y="24.1" width="0.64" height="5.0" fill="#D0CEE8"/>
<rect x="419.48" y="24.1" width="0.64" height="5.0" fill="#D0CEE8"/>
<rect x="420.07" y="24.1" width="0.64" height="5.0" fill="#AAA4D3"/>
<rect x="420.66" y="24.1" width="0.64" height="5.0" fill="#AAA4D3"/>
<rect x="421.26" y="24.1" width="0.64" height="5.0" fill="#D0CEE8"/>
<rect x="421.85" y="24.1" width="0.64" height="5.0" fill="#D0CEE8"/>
<rect x="422.45" y="24.1" width="0.64" height="5.0" fill="#D0CEE8"/>
<rect x="423.04" y="24.1" width="0.64" height="5.0" fill="#D0CEE8"/>
<rect x="423.63" y="24.1" width="0.64" height="5.0" fill="#D0CEE8"/>
<rect x="424.23" y="24.1" width="0.64" height="5.0" fill="#D0CEE8"/>
<rect x="424.82" y="24.1" width="0.64" height="5.0" fill="#EFEDF6"/>
<rect x="425.41" y="24.1" width="0.64" height="5.0" fill="#EFEDF6"/>
<rect x="426.01" y="24.1" width="0.64" height="5.0" fill="#EFEDF6"/>
<rect x="426.60" y="24.1" width="0.64" height="5.0" fill="#EFEDF6"/>
<rect x="427.19" y="24.1" width="0.64" height="5.0" fill="#EFEDF6"/>
<rect x="427.79" y="24.1" width="0.64" height="5.0" fill="#EFEDF6"/>
<rect x="428.38" y="24.1" width="0.64" height="5.0" fill="#EFEDF6"/>
<rect x="428.97" y="24.1" width="0.64" height="5.0" fill="#EFEDF6"/>
<rect x="429.57" y="24.1" width="0.64" height="5.0" fill="#EFEDF6"/>
<rect x="430.16" y="24.1" width="0.64" height="5.0" fill="#EFEDF6"/>
<rect x="430.75" y="24.1" width="0.64" height="5.0" fill="#EFEDF6"/>
<rect x="431.35" y="24.1" width="0.64" height="5.0" fill="#EFEDF6"/>
<rect x="431.94" y="24.1" width="0.64" height="5.0" fill="#EFEDF6"/>
<rect x="432.54" y="24.1" width="0.64" height="5.0" fill="#EFEDF6"/>
<rect x="433.13" y="24.1" width="0.64" height="5.0" fill="#EFEDF6"/>
<rect x="433.72" y="24.1" width="0.64" height="5.0" fill="#EFEDF6"/>
<rect x="434.32" y="24.1" width="0.64" height="5.0" fill="#EFEDF6"/>
<rect x="434.91" y="24.1" width="0.64" height="5.0" fill="#8170BA"/>
<rect x="435.50" y="24.1" width="0.64" height="5.0" fill="#8170BA"/>
<rect x="436.10" y="24.1" width="0.64" height="5.0" fill="#AAA4D3"/>
<rect x="436.69" y="24.1" width="0.64" height="5.0" fill="#AAA4D3"/>
<rect x="437.28" y="24.1" width="0.64" height="5.0" fill="#AAA4D3"/>
<rect x="437.88" y="24.1" width="0.64" height="5.0" fill="#AAA4D3"/>
<rect x="438.47" y="24.1" width="0.64" height="5.0" fill="#8170BA"/>
<rect x="439.06" y="24.1" width="0.64" height="5.0" fill="#AAA4D3"/>
<rect x="439.66" y="24.1" width="0.64" height="5.0" fill="#AAA4D3"/>
<rect x="440.25" y="24.1" width="0.64" height="5.0" fill="#D0CEE8"/>
<rect x="440.85" y="24.1" width="0.64" height="5.0" fill="#D0CEE8"/>
<rect x="441.44" y="24.1" width="0.64" height="5.0" fill="#D0CEE8"/>
<rect x="442.03" y="24.1" width="0.64" height="5.0" fill="#D0CEE8"/>
<rect x="442.63" y="24.1" width="0.64" height="5.0" fill="#D0CEE8"/>
<rect x="443.22" y="24.1" width="0.64" height="5.0" fill="#D0CEE8"/>
<rect x="443.81" y="24.1" width="0.64" height="5.0" fill="#8170BA"/>
<rect x="444.41" y="24.1" width="0.64" height="5.0" fill="#AAA4D3"/>
<rect x="445.00" y="24.1" width="0.64" height="5.0" fill="#D0CEE8"/>
<rect x="445.59" y="24.1" width="0.64" height="5.0" fill="#D0CEE8"/>
<rect x="446.19" y="24.1" width="0.64" height="5.0" fill="#D0CEE8"/>
<rect x="446.78" y="24.1" width="0.64" height="5.0" fill="#D0CEE8"/>
<rect x="447.37" y="24.1" width="0.64" height="5.0" fill="#D0CEE8"/>
<rect x="447.97" y="24.1" width="0.64" height="5.0" fill="#D0CEE8"/>
<rect x="448.56" y="24.1" width="0.64" height="5.0" fill="#D0CEE8"/>
<rect x="449.15" y="24.1" width="0.64" height="5.0" fill="#D0CEE8"/>
<rect x="449.75" y="24.1" width="0.64" height="5.0" fill="#D0CEE8"/>
<rect x="450.34" y="24.1" width="0.64" height="5.0" fill="#D0CEE8"/>
<rect x="450.94" y="24.1" width="0.64" height="5.0" fill="#D0CEE8"/>
<rect x="451.53" y="24.1" width="0.64" height="5.0" fill="#D0CEE8"/>
<rect x="452.12" y="24.1" width="0.64" height="5.0" fill="#D0CEE8"/>
<rect x="452.72" y="24.1" width="0.64" height="5.0" fill="#D0CEE8"/>
<rect x="453.31" y="24.1" width="0.64" height="5.0" fill="#EFEDF6"/>
<rect x="453.90" y="24.1" width="0.64" height="5.0" fill="#EFEDF6"/>
<rect x="454.50" y="24.1" width="0.64" height="5.0" fill="#EFEDF6"/>
<rect x="455.09" y="24.1" width="0.64" height="5.0" fill="#EFEDF6"/>
<rect x="455.68" y="24.1" width="0.64" height="5.0" fill="#AAA4D3"/>
<rect x="456.28" y="24.1" width="0.64" height="5.0" fill="#D0CEE8"/>
<rect x="456.87" y="24.1" width="0.64" height="5.0" fill="#D0CEE8"/>
<rect x="457.46" y="24.1" width="0.64" height="5.0" fill="#D0CEE8"/>
<rect x="458.06" y="24.1" width="0.64" height="5.0" fill="#D0CEE8"/>
<rect x="458.65" y="24.1" width="0.64" height="5.0" fill="#D0CEE8"/>
<rect x="459.25" y="24.1" width="0.64" height="5.0" fill="#D0CEE8"/>
<rect x="459.84" y="24.1" width="0.64" height="5.0" fill="#D0CEE8"/>
<rect x="460.43" y="24.1" width="0.64" height="5.0" fill="#D0CEE8"/>
<rect x="461.03" y="24.1" width="0.64" height="5.0" fill="#EFEDF6"/>
<rect x="461.62" y="24.1" width="0.64" height="5.0" fill="#EFEDF6"/>
<rect x="462.21" y="24.1" width="0.64" height="5.0" fill="#EFEDF6"/>
<rect x="462.81" y="24.1" width="0.64" height="5.0" fill="#EFEDF6"/>
</g>
<rect x="353.0" y="31.0" width="110.4" height="83.4" fill="#D3D3D3"/>
<path d="M353.0 31.00h81.8v13.90h-81.8z" fill="#F0FF46"/>
<text x="465.9" y="40.6" font-size="7.3" fill="#000">74% RTK</text>
<path d="M353.0 44.90h38.5v13.90h-38.5zM434.8 44.90h21.2v13.90h-21.2z" fill="#9450A9"/>
<text x="465.9" y="54.5" font-size="7.3" fill="#000">54% PI3K</text>
<path d="M353.0 58.80h19.4v13.90h-19.4zM391.5 58.80h21.6v13.90h-21.6zM434.8 58.80h8.9v13.90h-8.9zM456.0 58.80h4.0v13.90h-4.0z" fill="#F28121"/>
<text x="465.9" y="68.4" font-size="7.3" fill="#000">48% RB1</text>
<path d="M353.0 72.70h5.7v13.90h-5.7zM372.4 72.70h6.2v13.90h-6.2zM391.5 72.70h7.5v13.90h-7.5zM413.1 72.70h7.1v13.90h-7.1zM434.8 72.70h3.1v13.90h-3.1zM443.7 72.70h7.1v13.90h-7.1zM456.0 72.70h2.0v13.90h-2.0zM460.0 72.70h1.8v13.90h-1.8z" fill="#5DBA4B"/>
<text x="465.9" y="82.3" font-size="7.3" fill="#000">36% P53</text>
<path d="M353.0 86.60h1.1v13.90h-1.1zM358.7 86.60h4.2v13.90h-4.2zM372.4 86.60h1.4v13.90h-1.4zM378.6 86.60h2.2v13.90h-2.2zM391.5 86.60h1.3v13.90h-1.3zM398.6 86.60h1.1v13.90h-1.1zM413.1 86.60h0.9v13.90h-0.9zM420.2 86.60h2.9v13.90h-2.9zM434.8 86.60h0.9v13.90h-0.9zM437.9 86.60h1.3v13.90h-1.3zM443.7 86.60h0.9v13.90h-0.9zM450.8 86.60h2.2v13.90h-2.2zM458.0 86.60h2.0v13.90h-2.0zM461.8 86.60h1.6v13.90h-1.6z" fill="#4184C0"/>
<text x="465.9" y="96.2" font-size="7.3" fill="#000">21% MAPK</text>
<path d="M392.4 100.50h2.6v13.90h-2.6zM413.8 100.50h0.9v13.90h-0.9zM420.2 100.50h1.1v13.90h-1.1zM423.1 100.50h1.5v13.90h-1.5zM438.8 100.50h1.3v13.90h-1.3zM443.7 100.50h1.3v13.90h-1.3zM460.0 100.50h1.2v13.90h-1.2z" fill="#E8232A"/>
<text x="465.9" y="110.1" font-size="7.3" fill="#000">8% ChrMod</text>
<text x="465.9" y="28.0" font-size="4.6" font-weight="bold" fill="#111">hits</text>
<rect x="510.1" y="23.10" width="6.9" height="6.8" fill="#F0FF46"/>
<text x="520.1" y="24.8" font-size="5" fill="#333">RTK</text>
<rect x="510.1" y="29.83" width="6.9" height="6.8" fill="#F28121"/>
<text x="520.1" y="32.8" font-size="5" fill="#333">RB1</text>
<rect x="510.1" y="36.56" width="6.9" height="6.8" fill="#9450A9"/>
<text x="520.1" y="40.7" font-size="5" fill="#333">PI3K</text>
<rect x="510.1" y="43.29" width="6.9" height="6.8" fill="#5DBA4B"/>
<text x="520.1" y="48.7" font-size="5" fill="#333">P53</text>
<rect x="510.1" y="50.02" width="6.9" height="6.8" fill="#4184C0"/>
<text x="520.1" y="56.6" font-size="5" fill="#333">MAPK</text>
<rect x="510.1" y="56.75" width="6.9" height="6.8" fill="#E8232A"/>
<text x="520.1" y="64.5" font-size="5" fill="#333">ChrMod</text>
<rect x="510.1" y="63.48" width="6.9" height="6.8" fill="#D3D3D3"/>
<text x="520.1" y="72.5" font-size="5" fill="#333">none</text>
<text x="543.0" y="26.6" font-size="4.6" font-weight="bold" fill="#111">hits</text>
<rect x="542.6" y="28.80" width="7.7" height="7.5" fill="#5B2D9E"/>
<rect x="542.6" y="36.20" width="7.7" height="7.5" fill="#8E86C3"/>
<rect x="542.6" y="43.60" width="7.7" height="7.5" fill="#C5C3E3"/>
<rect x="542.6" y="51.00" width="7.7" height="7.5" fill="#EFEDF6"/>
<rect x="542.6" y="28.8" width="7.7" height="29.6" fill="none" stroke="#000" stroke-width="0.45"/>
<text x="552.1" y="33.9" font-size="4.3" fill="#333">5</text>
<text x="552.1" y="55.9" font-size="4.3" fill="#333">1</text>
<text x="354.0" y="12.2" font-size="16" font-weight="bold" fill="#000" stroke="#000" stroke-width="0.35">b.</text>
<text x="603.4" y="12.0" font-size="15.5" font-weight="bold" fill="#000" stroke="#000" stroke-width="0.35">c.</text>
<ellipse cx="622.3" cy="39.3" rx="14.0" ry="10.7" fill="#E9D54C" stroke="#6F93C6" stroke-width="0.6"/>
<clipPath id="rtkclip"><ellipse cx="622.3" cy="39.3" rx="14.0" ry="10.7"/></clipPath>
<ellipse cx="637.7" cy="37.2" rx="11.6" ry="8.7" fill="#A983DC" stroke="#6F93C6" stroke-width="0.6"/>
<ellipse cx="637.7" cy="37.2" rx="11.6" ry="8.7" fill="#A9677C" clip-path="url(#rtkclip)"/>
<ellipse cx="622.3" cy="39.3" rx="14.0" ry="10.7" fill="none" stroke="#6F93C6" stroke-width="0.6"/>
<text x="615.4" y="42.3" font-size="8.5" fill="#111">RTK</text>
<text x="634.3" y="41.2" font-size="8.5" fill="#111">PI3K</text>
<text x="659.0" y="42.8" font-size="8.4" fill="#111">~90%</text>
<path d="M634.8 47.4L631.6 57.2" stroke="#555" stroke-width="1.0" fill="none"/>
<path d="M630.9 59.6L629.7 55.2L633.7 56.5z" fill="#555"/>
<ellipse cx="633.9" cy="66.8" rx="9.6" ry="8.3" fill="#F3B58B" stroke="#6F93C6" stroke-width="0.6"/>
<ellipse cx="624.0" cy="78.6" rx="9.6" ry="8.6" fill="#8FB97C" fill-opacity="0.93" stroke="#6F93C6" stroke-width="0.6"/>
<ellipse cx="639.1" cy="76.7" rx="6.7" ry="6.7" fill="#B9CFEA" fill-opacity="0.9" stroke="#6F93C6" stroke-width="0.6"/>
<text x="627.3" y="69.7" font-size="8" fill="#111">RB1</text>
<text x="618.1" y="81.6" font-size="8.4" fill="#111">P53</text>
<text x="635.2" y="79.6" font-size="8.4" fill="#111">MAPK</text>
<path d="M628.5 87.3L629.2 94.6" stroke="#555" stroke-width="1.0" fill="none"/>
<path d="M629.5 97.2L627.2 93.4L631.2 93.0z" fill="#555"/>
<text x="635.8" y="104.5" font-size="6.6" fill="#111" text-anchor="middle">Other uncommon</text>
<text x="635.8" y="112.4" font-size="6.6" fill="#111" text-anchor="middle">events</text>
<text x="353.4" y="143.3" font-size="16" font-weight="bold" fill="#000" stroke="#000" stroke-width="0.35">d.</text>
<g fill="#D2D2D2" stroke="#D2D2D2" stroke-width="0.18" stroke-linejoin="round">
<path d="M638.5 305.0A107.5 107.5 0 0 1 638.5 305.3Q531.4 296.0 424.3 287.2A107.5 107.5 0 0 1 424.3 287.0Q531.4 296.0 638.5 305.0Z"/>
<path d="M427.5 268.5A107.5 107.5 0 0 1 427.9 266.9Q531.4 296.0 630.5 254.4A107.5 107.5 0 0 1 632.0 258.2Q531.4 296.0 427.5 268.5Z"/>
<path d="M635.8 321.5A107.5 107.5 0 0 1 633.3 330.1Q531.4 296.0 638.3 285.1A107.5 107.5 0 0 1 638.8 291.2Q531.4 296.0 635.8 321.5Z"/>
<path d="M425.9 275.4A107.5 107.5 0 0 1 426.1 274.6Q531.4 296.0 452.1 223.4A107.5 107.5 0 0 1 452.8 222.6Q531.4 296.0 425.9 275.4Z"/>
<path d="M599.9 213.2A107.5 107.5 0 0 1 602.2 215.1Q531.4 296.0 616.8 230.7A107.5 107.5 0 0 1 620.5 235.9Q531.4 296.0 599.9 213.2Z"/>
<path d="M481.2 200.9A107.5 107.5 0 0 1 481.8 200.6Q531.4 296.0 542.4 189.1A107.5 107.5 0 0 1 543.9 189.2Q531.4 296.0 481.2 200.9Z"/>
<path d="M424.1 302.7A107.5 107.5 0 0 1 424.1 302.4Q531.4 296.0 424.1 289.4A107.5 107.5 0 0 1 424.1 289.2Q531.4 296.0 424.1 302.7Z"/>
<path d="M427.5 323.5A107.5 107.5 0 0 1 427.4 323.3Q531.4 296.0 493.8 195.3A107.5 107.5 0 0 1 493.9 195.2Q531.4 296.0 427.5 323.5Z"/>
<path d="M460.9 214.9A107.5 107.5 0 0 1 461.2 214.6Q531.4 296.0 612.6 225.5A107.5 107.5 0 0 1 612.8 225.8Q531.4 296.0 460.9 214.9Z"/>
<path d="M637.0 315.9A107.5 107.5 0 0 1 636.9 316.5Q531.4 296.0 596.8 210.7A107.5 107.5 0 0 1 597.2 211.0Q531.4 296.0 637.0 315.9Z"/>
<path d="M432.7 338.7A107.5 107.5 0 0 1 432.7 338.7Q531.4 296.0 519.9 189.1A107.5 107.5 0 0 1 519.9 189.1Q531.4 296.0 432.7 338.7Z"/>
<path d="M480.8 201.2A107.5 107.5 0 0 1 481.1 201.0Q531.4 296.0 629.9 253.0A107.5 107.5 0 0 1 630.5 254.4Q531.4 296.0 480.8 201.2Z"/>
<path d="M423.9 296.3A107.5 107.5 0 0 1 423.9 296.2Q531.4 296.0 493.0 195.6A107.5 107.5 0 0 1 493.2 195.5Q531.4 296.0 423.9 296.3Z"/>
<path d="M424.1 290.2A107.5 107.5 0 0 1 424.1 290.1Q531.4 296.0 511.3 190.4A107.5 107.5 0 0 1 511.5 190.4Q531.4 296.0 424.1 290.2Z"/>
<path d="M423.9 296.0A107.5 107.5 0 0 1 423.9 295.7Q531.4 296.0 435.9 246.7A107.5 107.5 0 0 1 436.1 246.2Q531.4 296.0 423.9 296.0Z"/>
<path d="M424.1 289.8A107.5 107.5 0 0 1 424.1 289.4Q531.4 296.0 435.6 247.3A107.5 107.5 0 0 1 435.9 246.7Q531.4 296.0 424.1 289.8Z"/>
<path d="M424.6 308.5A107.5 107.5 0 0 1 424.4 306.5Q531.4 296.0 558.9 192.1A107.5 107.5 0 0 1 559.8 192.3Q531.4 296.0 424.6 308.5Z"/>
<path d="M578.7 392.5A107.5 107.5 0 0 1 578.5 392.6Q531.4 296.0 500.6 193.0A107.5 107.5 0 0 1 500.9 192.9Q531.4 296.0 578.7 392.5Z"/>
<path d="M486.3 198.4A107.5 107.5 0 0 1 487.2 198.0Q531.4 296.0 628.7 250.4A107.5 107.5 0 0 1 629.9 253.0Q531.4 296.0 486.3 198.4Z"/>
<path d="M424.6 283.3A107.5 107.5 0 0 1 424.7 282.6Q531.4 296.0 605.9 218.5A107.5 107.5 0 0 1 607.1 219.7Q531.4 296.0 424.6 283.3Z"/>
<path d="M453.0 369.6A107.5 107.5 0 0 1 451.6 368.1Q531.4 296.0 426.7 320.6A107.5 107.5 0 0 1 426.1 317.5Q531.4 296.0 453.0 369.6Z"/>
<path d="M432.7 338.6A107.5 107.5 0 0 1 432.7 338.6Q531.4 296.0 483.0 200.0A107.5 107.5 0 0 1 483.1 200.0Q531.4 296.0 432.7 338.6Z"/>
<path d="M425.7 276.2A107.5 107.5 0 0 1 425.9 275.4Q531.4 296.0 470.2 207.6A107.5 107.5 0 0 1 471.2 206.9Q531.4 296.0 425.7 276.2Z"/>
<path d="M638.8 300.8A107.5 107.5 0 0 1 638.8 300.9Q531.4 296.0 521.4 189.0A107.5 107.5 0 0 1 521.5 189.0Q531.4 296.0 638.8 300.8Z"/>
<path d="M427.7 324.3A107.5 107.5 0 0 1 427.6 323.9Q531.4 296.0 608.3 220.9A107.5 107.5 0 0 1 608.7 221.3Q531.4 296.0 427.7 324.3Z"/>
<path d="M613.9 365.0A107.5 107.5 0 0 1 612.9 366.1Q531.4 296.0 426.0 317.1A107.5 107.5 0 0 1 425.8 316.0Q531.4 296.0 613.9 365.0Z"/>
<path d="M423.9 297.1A107.5 107.5 0 0 1 423.9 296.9Q531.4 296.0 634.4 265.1A107.5 107.5 0 0 1 634.6 266.0Q531.4 296.0 423.9 297.1Z"/>
<path d="M432.8 338.8A107.5 107.5 0 0 1 432.8 338.8Q531.4 296.0 613.6 226.8A107.5 107.5 0 0 1 613.7 226.8Q531.4 296.0 432.8 338.8Z"/>
<path d="M576.6 393.6A107.5 107.5 0 0 1 575.5 394.0Q531.4 296.0 500.0 398.8A107.5 107.5 0 0 1 499.3 398.6Q531.4 296.0 576.6 393.6Z"/>
<path d="M577.2 393.2A107.5 107.5 0 0 1 577.1 393.3Q531.4 296.0 423.9 293.9A107.5 107.5 0 0 1 423.9 293.7Q531.4 296.0 577.2 393.2Z"/>
<path d="M423.9 296.4A107.5 107.5 0 0 1 423.9 296.3Q531.4 296.0 511.5 190.4A107.5 107.5 0 0 1 511.8 190.3Q531.4 296.0 423.9 296.4Z"/>
<path d="M638.4 306.4A107.5 107.5 0 0 1 638.4 306.6Q531.4 296.0 432.0 337.1A107.5 107.5 0 0 1 432.0 337.0Q531.4 296.0 638.4 306.4Z"/>
<path d="M576.9 393.4A107.5 107.5 0 0 1 576.9 393.4Q531.4 296.0 425.1 312.2A107.5 107.5 0 0 1 425.1 312.1Q531.4 296.0 576.9 393.4Z"/>
<path d="M429.9 331.5A107.5 107.5 0 0 1 429.9 331.3Q531.4 296.0 423.9 295.4A107.5 107.5 0 0 1 423.9 295.4Q531.4 296.0 429.9 331.5Z"/>
<path d="M424.1 290.1A107.5 107.5 0 0 1 424.1 290.0Q531.4 296.0 492.8 195.7A107.5 107.5 0 0 1 493.0 195.6Q531.4 296.0 424.1 290.1Z"/>
<path d="M424.7 282.6A107.5 107.5 0 0 1 425.7 276.6Q531.4 296.0 554.9 191.1A107.5 107.5 0 0 1 558.1 191.9Q531.4 296.0 424.7 282.6Z"/>
<path d="M489.2 197.1A107.5 107.5 0 0 1 489.9 196.8Q531.4 296.0 507.4 191.2A107.5 107.5 0 0 1 508.5 191.0Q531.4 296.0 489.2 197.1Z"/>
<path d="M638.7 302.2A107.5 107.5 0 0 1 638.7 302.6Q531.4 296.0 478.7 202.3A107.5 107.5 0 0 1 479.3 202.0Q531.4 296.0 638.7 302.2Z"/>
<path d="M431.4 256.6A107.5 107.5 0 0 1 432.0 255.1Q531.4 296.0 509.4 190.8A107.5 107.5 0 0 1 511.3 190.4Q531.4 296.0 431.4 256.6Z"/>
<path d="M432.8 338.8A107.5 107.5 0 0 1 432.7 338.7Q531.4 296.0 560.7 192.6A107.5 107.5 0 0 1 560.9 192.6Q531.4 296.0 432.8 338.8Z"/>
<path d="M448.0 228.1A107.5 107.5 0 0 1 450.4 225.3Q531.4 296.0 464.2 212.1A107.5 107.5 0 0 1 467.8 209.4Q531.4 296.0 448.0 228.1Z"/>
<path d="M636.6 317.9A107.5 107.5 0 0 1 636.6 317.9Q531.4 296.0 425.1 311.8A107.5 107.5 0 0 1 425.1 311.8Q531.4 296.0 636.6 317.9Z"/>
<path d="M425.2 312.6A107.5 107.5 0 0 1 425.2 312.5Q531.4 296.0 423.9 295.5A107.5 107.5 0 0 1 423.9 295.5Q531.4 296.0 425.2 312.6Z"/>
<path d="M519.2 189.2A107.5 107.5 0 0 1 519.3 189.2Q531.4 296.0 626.7 246.2A107.5 107.5 0 0 1 627.1 247.0Q531.4 296.0 519.2 189.2Z"/>
<path d="M535.2 188.6A107.5 107.5 0 0 1 536.3 188.6Q531.4 296.0 611.7 224.5A107.5 107.5 0 0 1 612.2 225.1Q531.4 296.0 535.2 188.6Z"/>
<path d="M424.0 290.8A107.5 107.5 0 0 1 424.1 290.2Q531.4 296.0 558.1 191.9A107.5 107.5 0 0 1 558.5 192.0Q531.4 296.0 424.0 290.8Z"/>
<path d="M446.6 230.0A107.5 107.5 0 0 1 446.7 229.8Q531.4 296.0 519.6 189.1A107.5 107.5 0 0 1 519.7 189.1Q531.4 296.0 446.6 230.0Z"/>
<path d="M636.9 316.5A107.5 107.5 0 0 1 636.9 316.6Q531.4 296.0 516.7 189.5A107.5 107.5 0 0 1 516.9 189.5Q531.4 296.0 636.9 316.5Z"/>
<path d="M424.2 303.4A107.5 107.5 0 0 1 424.1 302.7Q531.4 296.0 426.3 273.6A107.5 107.5 0 0 1 426.4 272.9Q531.4 296.0 424.2 303.4Z"/>
<path d="M431.1 334.7A107.5 107.5 0 0 1 431.0 334.5Q531.4 296.0 608.7 221.3A107.5 107.5 0 0 1 608.9 221.5Q531.4 296.0 431.1 334.7Z"/>
<path d="M614.6 364.1A107.5 107.5 0 0 1 613.9 365.0Q531.4 296.0 425.1 312.1A107.5 107.5 0 0 1 425.1 311.8Q531.4 296.0 614.6 364.1Z"/>
<path d="M576.7 393.5A107.5 107.5 0 0 1 576.6 393.5Q531.4 296.0 428.5 327.1A107.5 107.5 0 0 1 428.5 327.0Q531.4 296.0 576.7 393.5Z"/>
<path d="M424.2 304.0A107.5 107.5 0 0 1 424.2 303.4Q531.4 296.0 436.1 246.2A107.5 107.5 0 0 1 436.5 245.5Q531.4 296.0 424.2 304.0Z"/>
<path d="M638.5 305.6A107.5 107.5 0 0 1 638.5 305.8Q531.4 296.0 425.1 311.8A107.5 107.5 0 0 1 425.1 311.7Q531.4 296.0 638.5 305.6Z"/>
<path d="M638.0 309.8A107.5 107.5 0 0 1 637.6 312.9Q531.4 296.0 585.3 389.0A107.5 107.5 0 0 1 581.0 391.4Q531.4 296.0 638.0 309.8Z"/>
<path d="M525.8 403.4A107.5 107.5 0 0 1 524.5 403.3Q531.4 296.0 424.0 300.6A107.5 107.5 0 0 1 424.0 299.6Q531.4 296.0 525.8 403.4Z"/>
<path d="M459.6 376.0A107.5 107.5 0 0 1 457.2 373.8Q531.4 296.0 494.3 195.1A107.5 107.5 0 0 1 497.5 194.0Q531.4 296.0 459.6 376.0Z"/>
<path d="M423.9 296.2A107.5 107.5 0 0 1 423.9 296.0Q531.4 296.0 453.0 222.5A107.5 107.5 0 0 1 453.2 222.2Q531.4 296.0 423.9 296.2Z"/>
<path d="M578.4 392.7A107.5 107.5 0 0 1 577.9 392.9Q531.4 296.0 456.1 219.2A107.5 107.5 0 0 1 456.8 218.6Q531.4 296.0 578.4 392.7Z"/>
<path d="M426.9 321.4A107.5 107.5 0 0 1 426.9 321.1Q531.4 296.0 426.4 272.8A107.5 107.5 0 0 1 426.5 272.6Q531.4 296.0 426.9 321.4Z"/>
<path d="M637.2 315.0A107.5 107.5 0 0 1 637.1 315.8Q531.4 296.0 638.8 291.2A107.5 107.5 0 0 1 638.9 293.6Q531.4 296.0 637.2 315.0Z"/>
<path d="M427.1 322.2A107.5 107.5 0 0 1 426.9 321.4Q531.4 296.0 436.6 245.3A107.5 107.5 0 0 1 437.0 244.6Q531.4 296.0 427.1 322.2Z"/>
<path d="M425.4 313.9A107.5 107.5 0 0 1 425.4 313.8Q531.4 296.0 613.6 226.7A107.5 107.5 0 0 1 613.6 226.8Q531.4 296.0 425.4 313.9Z"/>
<path d="M432.8 253.3A107.5 107.5 0 0 1 433.8 250.9Q531.4 296.0 467.8 209.4A107.5 107.5 0 0 1 470.2 207.6Q531.4 296.0 432.8 253.3Z"/>
<path d="M579.7 392.0A107.5 107.5 0 0 1 579.4 392.2Q531.4 296.0 638.2 284.0A107.5 107.5 0 0 1 638.3 285.1Q531.4 296.0 579.7 392.0Z"/>
<path d="M451.6 368.1A107.5 107.5 0 0 1 450.7 367.1Q531.4 296.0 429.7 330.8A107.5 107.5 0 0 1 429.2 329.4Q531.4 296.0 451.6 368.1Z"/>
<path d="M636.6 318.1A107.5 107.5 0 0 1 636.6 318.1Q531.4 296.0 432.1 337.1A107.5 107.5 0 0 1 432.0 337.1Q531.4 296.0 636.6 318.1Z"/>
<path d="M524.5 403.3A107.5 107.5 0 0 1 523.7 403.2Q531.4 296.0 425.2 312.4A107.5 107.5 0 0 1 425.1 312.2Q531.4 296.0 524.5 403.3Z"/>
<path d="M432.6 338.3A107.5 107.5 0 0 1 432.6 338.3Q531.4 296.0 437.3 244.0A107.5 107.5 0 0 1 437.4 243.9Q531.4 296.0 432.6 338.3Z"/>
<path d="M423.9 296.8A107.5 107.5 0 0 1 423.9 296.4Q531.4 296.0 558.5 192.0A107.5 107.5 0 0 1 558.9 192.1Q531.4 296.0 423.9 296.8Z"/>
<path d="M615.5 363.0A107.5 107.5 0 0 1 614.6 364.1Q531.4 296.0 423.9 293.7A107.5 107.5 0 0 1 423.9 293.2Q531.4 296.0 615.5 363.0Z"/>
<path d="M427.8 324.5A107.5 107.5 0 0 1 427.7 324.3Q531.4 296.0 635.5 269.0A107.5 107.5 0 0 1 635.6 269.5Q531.4 296.0 427.8 324.5Z"/>
<path d="M425.2 313.0A107.5 107.5 0 0 1 425.2 312.8Q531.4 296.0 472.1 206.3A107.5 107.5 0 0 1 472.4 206.1Q531.4 296.0 425.2 313.0Z"/>
<path d="M425.4 313.7A107.5 107.5 0 0 1 425.3 313.3Q531.4 296.0 559.8 192.3A107.5 107.5 0 0 1 560.2 192.4Q531.4 296.0 425.4 313.7Z"/>
<path d="M453.1 369.7A107.5 107.5 0 0 1 453.0 369.6Q531.4 296.0 425.2 312.5A107.5 107.5 0 0 1 425.2 312.4Q531.4 296.0 453.1 369.7Z"/>
<path d="M636.9 316.9A107.5 107.5 0 0 1 636.7 317.4Q531.4 296.0 477.7 202.9A107.5 107.5 0 0 1 478.7 202.3Q531.4 296.0 636.9 316.9Z"/>
<path d="M423.9 296.2A107.5 107.5 0 0 1 423.9 296.2Q531.4 296.0 482.6 200.2A107.5 107.5 0 0 1 482.6 200.2Q531.4 296.0 423.9 296.2Z"/>
<path d="M432.6 338.4A107.5 107.5 0 0 1 432.6 338.3Q531.4 296.0 454.9 220.5A107.5 107.5 0 0 1 455.0 220.4Q531.4 296.0 432.6 338.4Z"/>
<path d="M519.4 189.2A107.5 107.5 0 0 1 519.4 189.2Q531.4 296.0 603.7 216.4A107.5 107.5 0 0 1 604.0 216.7Q531.4 296.0 519.4 189.2Z"/>
<path d="M530.0 403.5A107.5 107.5 0 0 1 528.9 403.5Q531.4 296.0 424.2 288.6A107.5 107.5 0 0 1 424.2 288.1Q531.4 296.0 530.0 403.5Z"/>
<path d="M624.4 349.9A107.5 107.5 0 0 1 623.4 351.7Q531.4 296.0 456.8 218.6A107.5 107.5 0 0 1 458.2 217.3Q531.4 296.0 624.4 349.9Z"/>
<path d="M425.2 312.8A107.5 107.5 0 0 1 425.2 312.8Q531.4 296.0 454.1 221.3A107.5 107.5 0 0 1 454.2 221.2Q531.4 296.0 425.2 312.8Z"/>
<path d="M638.0 309.6A107.5 107.5 0 0 1 638.0 309.8Q531.4 296.0 575.3 394.1A107.5 107.5 0 0 1 575.1 394.2Q531.4 296.0 638.0 309.6Z"/>
<path d="M636.5 318.7A107.5 107.5 0 0 1 636.4 319.2Q531.4 296.0 474.8 387.4A107.5 107.5 0 0 1 474.6 387.3Q531.4 296.0 636.5 318.7Z"/>
<path d="M519.4 189.2A107.5 107.5 0 0 1 519.5 189.2Q531.4 296.0 538.1 188.7A107.5 107.5 0 0 1 538.6 188.7Q531.4 296.0 519.4 189.2Z"/>
<path d="M430.3 332.6A107.5 107.5 0 0 1 430.2 332.2Q531.4 296.0 454.6 220.8A107.5 107.5 0 0 1 454.9 220.5Q531.4 296.0 430.3 332.6Z"/>
<path d="M616.7 361.4A107.5 107.5 0 0 1 615.5 363.0Q531.4 296.0 424.2 288.0A107.5 107.5 0 0 1 424.3 287.2Q531.4 296.0 616.7 361.4Z"/>
<path d="M429.9 331.5A107.5 107.5 0 0 1 429.9 331.5Q531.4 296.0 424.1 289.1A107.5 107.5 0 0 1 424.1 289.1Q531.4 296.0 429.9 331.5Z"/>
<path d="M432.0 255.1A107.5 107.5 0 0 1 432.5 253.9Q531.4 296.0 491.9 196.0A107.5 107.5 0 0 1 492.8 195.7Q531.4 296.0 432.0 255.1Z"/>
<path d="M446.7 229.8A107.5 107.5 0 0 1 448.0 228.1Q531.4 296.0 490.2 196.7A107.5 107.5 0 0 1 491.9 196.0Q531.4 296.0 446.7 229.8Z"/>
<path d="M429.8 331.0A107.5 107.5 0 0 1 429.7 330.8Q531.4 296.0 426.9 321.0A107.5 107.5 0 0 1 426.8 320.7Q531.4 296.0 429.8 331.0Z"/>
<path d="M427.3 322.9A107.5 107.5 0 0 1 427.1 322.2Q531.4 296.0 454.2 221.2A107.5 107.5 0 0 1 454.6 220.8Q531.4 296.0 427.3 322.9Z"/>
<path d="M638.9 296.8A107.5 107.5 0 0 1 638.9 297.2Q531.4 296.0 638.9 293.6A107.5 107.5 0 0 1 638.9 294.7Q531.4 296.0 638.9 296.8Z"/>
<path d="M638.5 304.7A107.5 107.5 0 0 1 638.5 305.0Q531.4 296.0 427.0 270.5A107.5 107.5 0 0 1 427.0 270.2Q531.4 296.0 638.5 304.7Z"/>
<path d="M636.7 317.8A107.5 107.5 0 0 1 636.7 317.9Q531.4 296.0 423.9 293.2A107.5 107.5 0 0 1 423.9 293.2Q531.4 296.0 636.7 317.8Z"/>
<path d="M636.4 319.2A107.5 107.5 0 0 1 636.3 319.3Q531.4 296.0 575.4 394.1A107.5 107.5 0 0 1 575.3 394.1Q531.4 296.0 636.4 319.2Z"/>
<path d="M432.5 338.1A107.5 107.5 0 0 1 432.4 337.9Q531.4 296.0 424.1 302.0A107.5 107.5 0 0 1 424.1 301.8Q531.4 296.0 432.5 338.1Z"/>
<path d="M638.8 300.9A107.5 107.5 0 0 1 638.8 301.3Q531.4 296.0 516.9 189.5A107.5 107.5 0 0 1 517.7 189.4Q531.4 296.0 638.8 300.9Z"/>
<path d="M627.9 343.3A107.5 107.5 0 0 1 627.4 344.4Q531.4 296.0 521.0 189.0A107.5 107.5 0 0 1 521.4 189.0Q531.4 296.0 627.9 343.3Z"/>
<path d="M425.3 313.3A107.5 107.5 0 0 1 425.3 313.0Q531.4 296.0 493.2 195.5A107.5 107.5 0 0 1 493.8 195.3Q531.4 296.0 425.3 313.3Z"/>
<path d="M457.2 373.8A107.5 107.5 0 0 1 457.0 373.6Q531.4 296.0 483.1 200.0A107.5 107.5 0 0 1 483.3 199.9Q531.4 296.0 457.2 373.8Z"/>
<path d="M586.4 388.3A107.5 107.5 0 0 1 586.1 388.5Q531.4 296.0 575.5 394.0A107.5 107.5 0 0 1 575.4 394.1Q531.4 296.0 586.4 388.3Z"/>
<path d="M576.6 393.5A107.5 107.5 0 0 1 576.6 393.6Q531.4 296.0 432.2 337.4A107.5 107.5 0 0 1 432.2 337.3Q531.4 296.0 576.6 393.5Z"/>
<path d="M446.5 230.1A107.5 107.5 0 0 1 446.6 230.0Q531.4 296.0 612.8 225.8A107.5 107.5 0 0 1 613.0 226.0Q531.4 296.0 446.5 230.1Z"/>
<path d="M423.9 295.6A107.5 107.5 0 0 1 423.9 295.5Q531.4 296.0 424.1 289.4A107.5 107.5 0 0 1 424.1 289.4Q531.4 296.0 423.9 295.6Z"/>
<path d="M424.4 305.9A107.5 107.5 0 0 1 424.3 305.1Q531.4 296.0 471.3 206.9A107.5 107.5 0 0 1 472.1 206.3Q531.4 296.0 424.4 305.9Z"/>
<path d="M424.6 283.6A107.5 107.5 0 0 1 424.6 283.3Q531.4 296.0 613.0 226.0A107.5 107.5 0 0 1 613.2 226.2Q531.4 296.0 424.6 283.6Z"/>
<path d="M423.9 296.9A107.5 107.5 0 0 1 423.9 296.9Q531.4 296.0 613.2 226.2A107.5 107.5 0 0 1 613.3 226.4Q531.4 296.0 423.9 296.9Z"/>
<path d="M424.7 308.7A107.5 107.5 0 0 1 424.6 308.5Q531.4 296.0 607.5 220.1A107.5 107.5 0 0 1 607.8 220.4Q531.4 296.0 424.7 308.7Z"/>
<path d="M638.5 305.3A107.5 107.5 0 0 1 638.5 305.6Q531.4 296.0 424.0 299.4A107.5 107.5 0 0 1 423.9 299.0Q531.4 296.0 638.5 305.3Z"/>
<path d="M425.2 312.8A107.5 107.5 0 0 1 425.2 312.7Q531.4 296.0 436.5 245.5A107.5 107.5 0 0 1 436.6 245.3Q531.4 296.0 425.2 312.8Z"/>
<path d="M532.0 403.5A107.5 107.5 0 0 1 530.0 403.5Q531.4 296.0 455.0 220.4A107.5 107.5 0 0 1 456.1 219.2Q531.4 296.0 532.0 403.5Z"/>
<path d="M638.9 297.2A107.5 107.5 0 0 1 638.9 297.3Q531.4 296.0 615.7 229.2A107.5 107.5 0 0 1 615.8 229.4Q531.4 296.0 638.9 297.2Z"/>
<path d="M638.7 302.1A107.5 107.5 0 0 1 638.7 302.2Q531.4 296.0 484.7 199.2A107.5 107.5 0 0 1 484.8 199.1Q531.4 296.0 638.7 302.1Z"/>
<path d="M481.1 201.0A107.5 107.5 0 0 1 481.2 200.9Q531.4 296.0 604.5 217.2A107.5 107.5 0 0 1 604.7 217.3Q531.4 296.0 481.1 201.0Z"/>
<path d="M541.1 403.1A107.5 107.5 0 0 1 536.4 403.4Q531.4 296.0 497.5 194.0A107.5 107.5 0 0 1 500.6 193.0Q531.4 296.0 541.1 403.1Z"/>
<path d="M424.7 309.1A107.5 107.5 0 0 1 424.7 308.7Q531.4 296.0 613.3 226.4A107.5 107.5 0 0 1 613.6 226.7Q531.4 296.0 424.7 309.1Z"/>
<path d="M577.1 393.3A107.5 107.5 0 0 1 576.9 393.4Q531.4 296.0 424.0 299.6A107.5 107.5 0 0 1 424.0 299.5Q531.4 296.0 577.1 393.3Z"/>
<path d="M424.4 306.2A107.5 107.5 0 0 1 424.4 305.9Q531.4 296.0 482.6 200.2A107.5 107.5 0 0 1 482.9 200.1Q531.4 296.0 424.4 306.2Z"/>
<path d="M424.1 290.0A107.5 107.5 0 0 1 424.1 289.9Q531.4 296.0 471.2 206.9A107.5 107.5 0 0 1 471.3 206.9Q531.4 296.0 424.1 290.0Z"/>
<path d="M430.4 332.8A107.5 107.5 0 0 1 430.3 332.6Q531.4 296.0 482.9 200.1A107.5 107.5 0 0 1 483.0 200.0Q531.4 296.0 430.4 332.8Z"/>
<path d="M626.0 347.0A107.5 107.5 0 0 1 625.3 348.4Q531.4 296.0 483.8 199.6A107.5 107.5 0 0 1 484.6 199.2Q531.4 296.0 626.0 347.0Z"/>
<path d="M481.8 200.6A107.5 107.5 0 0 1 482.0 200.5Q531.4 296.0 489.9 196.8A107.5 107.5 0 0 1 490.2 196.7Q531.4 296.0 481.8 200.6Z"/>
<path d="M424.1 290.2A107.5 107.5 0 0 1 424.1 290.2Q531.4 296.0 519.9 189.1A107.5 107.5 0 0 1 519.9 189.1Q531.4 296.0 424.1 290.2Z"/>
<path d="M427.6 323.9A107.5 107.5 0 0 1 427.5 323.5Q531.4 296.0 512.1 190.2A107.5 107.5 0 0 1 512.5 190.2Q531.4 296.0 427.6 323.9Z"/>
<path d="M430.6 333.4A107.5 107.5 0 0 1 430.6 333.4Q531.4 296.0 519.9 189.1A107.5 107.5 0 0 1 519.9 189.1Q531.4 296.0 430.6 333.4Z"/>
<path d="M454.6 371.2A107.5 107.5 0 0 1 454.2 370.8Q531.4 296.0 424.1 289.1A107.5 107.5 0 0 1 424.2 288.6Q531.4 296.0 454.6 371.2Z"/>
<path d="M577.9 392.9A107.5 107.5 0 0 1 577.4 393.1Q531.4 296.0 439.2 240.7A107.5 107.5 0 0 1 439.7 239.8Q531.4 296.0 577.9 392.9Z"/>
<path d="M520.3 402.9A107.5 107.5 0 0 1 519.6 402.9Q531.4 296.0 432.3 337.7A107.5 107.5 0 0 1 432.2 337.4Q531.4 296.0 520.3 402.9Z"/>
<path d="M579.2 392.3A107.5 107.5 0 0 1 578.9 392.4Q531.4 296.0 584.0 202.3A107.5 107.5 0 0 1 584.3 202.4Q531.4 296.0 579.2 392.3Z"/>
<path d="M562.1 399.0A107.5 107.5 0 0 1 559.4 399.8Q531.4 296.0 615.2 228.7A107.5 107.5 0 0 1 615.6 229.2Q531.4 296.0 562.1 399.0Z"/>
<path d="M425.7 276.5A107.5 107.5 0 0 1 425.7 276.2Q531.4 296.0 482.4 200.3A107.5 107.5 0 0 1 482.6 200.2Q531.4 296.0 425.7 276.5Z"/>
<path d="M430.0 331.7A107.5 107.5 0 0 1 429.9 331.5Q531.4 296.0 426.5 272.6A107.5 107.5 0 0 1 426.5 272.5Q531.4 296.0 430.0 331.7Z"/>
<path d="M612.9 366.1A107.5 107.5 0 0 1 612.5 366.5Q531.4 296.0 432.2 337.3A107.5 107.5 0 0 1 432.1 337.1Q531.4 296.0 612.9 366.1Z"/>
<path d="M636.7 317.5A107.5 107.5 0 0 1 636.7 317.8Q531.4 296.0 444.4 232.8A107.5 107.5 0 0 1 444.8 232.3Q531.4 296.0 636.7 317.5Z"/>
<path d="M425.3 313.0A107.5 107.5 0 0 1 425.2 313.0Q531.4 296.0 482.9 200.1A107.5 107.5 0 0 1 482.9 200.1Q531.4 296.0 425.3 313.0Z"/>
<path d="M427.9 266.9A107.5 107.5 0 0 1 428.1 266.4Q531.4 296.0 605.3 217.9A107.5 107.5 0 0 1 605.9 218.5Q531.4 296.0 427.9 266.9Z"/>
<path d="M424.4 306.5A107.5 107.5 0 0 1 424.4 306.2Q531.4 296.0 511.8 190.3A107.5 107.5 0 0 1 512.1 190.2Q531.4 296.0 424.4 306.5Z"/>
<path d="M636.9 316.8A107.5 107.5 0 0 1 636.9 316.9Q531.4 296.0 484.6 199.2A107.5 107.5 0 0 1 484.7 199.2Q531.4 296.0 636.9 316.8Z"/>
<path d="M424.5 285.1A107.5 107.5 0 0 1 424.6 283.6Q531.4 296.0 632.0 258.2A107.5 107.5 0 0 1 633.7 263.0Q531.4 296.0 424.5 285.1Z"/>
<path d="M432.5 338.1A107.5 107.5 0 0 1 432.5 338.1Q531.4 296.0 423.9 295.4A107.5 107.5 0 0 1 423.9 295.4Q531.4 296.0 432.5 338.1Z"/>
<path d="M461.2 214.6A107.5 107.5 0 0 1 461.7 214.2Q531.4 296.0 604.7 217.3A107.5 107.5 0 0 1 605.3 217.9Q531.4 296.0 461.2 214.6Z"/>
<path d="M638.9 297.3A107.5 107.5 0 0 1 638.9 297.9Q531.4 296.0 609.5 222.2A107.5 107.5 0 0 1 610.4 223.1Q531.4 296.0 638.9 297.3Z"/>
<path d="M626.5 346.0A107.5 107.5 0 0 1 626.0 347.0Q531.4 296.0 500.9 192.9A107.5 107.5 0 0 1 501.8 192.7Q531.4 296.0 626.5 346.0Z"/>
<path d="M425.2 312.6A107.5 107.5 0 0 1 425.2 312.6Q531.4 296.0 424.1 289.2A107.5 107.5 0 0 1 424.1 289.1Q531.4 296.0 425.2 312.6Z"/>
<path d="M425.2 312.7A107.5 107.5 0 0 1 425.2 312.6Q531.4 296.0 426.4 272.9A107.5 107.5 0 0 1 426.4 272.8Q531.4 296.0 425.2 312.7Z"/>
<path d="M432.4 337.9A107.5 107.5 0 0 1 432.4 337.9Q531.4 296.0 426.8 320.7A107.5 107.5 0 0 1 426.7 320.6Q531.4 296.0 432.4 337.9Z"/>
<path d="M638.5 305.8A107.5 107.5 0 0 1 638.4 306.1Q531.4 296.0 425.8 316.0A107.5 107.5 0 0 1 425.7 315.6Q531.4 296.0 638.5 305.8Z"/>
<path d="M423.9 295.7A107.5 107.5 0 0 1 423.9 295.6Q531.4 296.0 426.2 273.8A107.5 107.5 0 0 1 426.3 273.6Q531.4 296.0 423.9 295.7Z"/>
<path d="M423.9 296.9A107.5 107.5 0 0 1 423.9 296.8Q531.4 296.0 607.4 220.0A107.5 107.5 0 0 1 607.5 220.1Q531.4 296.0 423.9 296.9Z"/>
<path d="M618.0 359.6A107.5 107.5 0 0 1 616.7 361.4Q531.4 296.0 426.7 271.6A107.5 107.5 0 0 1 427.0 270.5Q531.4 296.0 618.0 359.6Z"/>
<path d="M426.1 274.6A107.5 107.5 0 0 1 426.2 273.8Q531.4 296.0 435.0 248.3A107.5 107.5 0 0 1 435.6 247.3Q531.4 296.0 426.1 274.6Z"/>
<path d="M461.7 214.2A107.5 107.5 0 0 1 463.6 212.6Q531.4 296.0 543.9 189.2A107.5 107.5 0 0 1 547.1 189.7Q531.4 296.0 461.7 214.2Z"/>
<path d="M432.7 338.7A107.5 107.5 0 0 1 432.7 338.6Q531.4 296.0 512.7 190.1A107.5 107.5 0 0 1 512.9 190.1Q531.4 296.0 432.7 338.7Z"/>
<path d="M506.3 191.5A107.5 107.5 0 0 1 506.6 191.4Q531.4 296.0 612.3 225.2A107.5 107.5 0 0 1 612.5 225.4Q531.4 296.0 506.3 191.5Z"/>
<path d="M577.3 393.2A107.5 107.5 0 0 1 577.2 393.2Q531.4 296.0 424.2 288.1A107.5 107.5 0 0 1 424.2 288.0Q531.4 296.0 577.3 393.2Z"/>
<path d="M636.9 316.5A107.5 107.5 0 0 1 636.9 316.5Q531.4 296.0 521.4 189.0A107.5 107.5 0 0 1 521.4 189.0Q531.4 296.0 636.9 316.5Z"/>
<path d="M579.4 392.2A107.5 107.5 0 0 1 579.2 392.3Q531.4 296.0 608.9 221.5A107.5 107.5 0 0 1 609.2 221.8Q531.4 296.0 579.4 392.2Z"/>
<path d="M638.7 302.6A107.5 107.5 0 0 1 638.6 304.0Q531.4 296.0 458.4 217.1A107.5 107.5 0 0 1 459.7 215.9Q531.4 296.0 638.7 302.6Z"/>
<path d="M636.6 318.1A107.5 107.5 0 0 1 636.5 318.7Q531.4 296.0 434.4 342.3A107.5 107.5 0 0 1 434.0 341.5Q531.4 296.0 636.6 318.1Z"/>
<path d="M463.6 212.6A107.5 107.5 0 0 1 464.2 212.1Q531.4 296.0 508.6 190.9A107.5 107.5 0 0 1 509.4 190.8Q531.4 296.0 463.6 212.6Z"/>
<path d="M638.6 304.0A107.5 107.5 0 0 1 638.5 304.7Q531.4 296.0 444.8 232.3A107.5 107.5 0 0 1 445.4 231.5Q531.4 296.0 638.6 304.0Z"/>
<path d="M578.9 392.5A107.5 107.5 0 0 1 578.7 392.5Q531.4 296.0 514.2 189.9A107.5 107.5 0 0 1 514.5 189.8Q531.4 296.0 578.9 392.5Z"/>
<path d="M432.7 338.6A107.5 107.5 0 0 1 432.6 338.4Q531.4 296.0 472.8 205.9A107.5 107.5 0 0 1 473.1 205.7Q531.4 296.0 432.7 338.6Z"/>
<path d="M481.8 200.6A107.5 107.5 0 0 1 481.8 200.6Q531.4 296.0 508.5 191.0A107.5 107.5 0 0 1 508.6 190.9Q531.4 296.0 481.8 200.6Z"/>
<path d="M487.2 198.0A107.5 107.5 0 0 1 489.2 197.1Q531.4 296.0 538.6 188.7A107.5 107.5 0 0 1 542.4 189.1Q531.4 296.0 487.2 198.0Z"/>
<path d="M425.4 313.9A107.5 107.5 0 0 1 425.4 313.9Q531.4 296.0 635.4 268.6A107.5 107.5 0 0 1 635.5 269.0Q531.4 296.0 425.4 313.9Z"/>
<path d="M506.6 191.4A107.5 107.5 0 0 1 507.1 191.3Q531.4 296.0 604.0 216.7A107.5 107.5 0 0 1 604.5 217.2Q531.4 296.0 506.6 191.4Z"/>
<path d="M431.2 257.0A107.5 107.5 0 0 1 431.4 256.6Q531.4 296.0 519.7 189.1A107.5 107.5 0 0 1 519.8 189.1Q531.4 296.0 431.2 257.0Z"/>
<path d="M638.8 301.3A107.5 107.5 0 0 1 638.7 302.1Q531.4 296.0 502.0 192.6A107.5 107.5 0 0 1 502.9 192.4Q531.4 296.0 638.8 301.3Z"/>
<path d="M455.0 371.6A107.5 107.5 0 0 1 454.6 371.2Q531.4 296.0 426.6 272.2A107.5 107.5 0 0 1 426.7 271.8Q531.4 296.0 455.0 371.6Z"/>
<path d="M577.4 393.1A107.5 107.5 0 0 1 577.3 393.2Q531.4 296.0 426.7 271.8A107.5 107.5 0 0 1 426.7 271.6Q531.4 296.0 577.4 393.1Z"/>
<path d="M536.3 188.6A107.5 107.5 0 0 1 538.1 188.7Q531.4 296.0 602.2 215.1A107.5 107.5 0 0 1 603.7 216.4Q531.4 296.0 536.3 188.6Z"/>
<path d="M638.3 307.6A107.5 107.5 0 0 1 638.0 309.6Q531.4 296.0 474.6 387.3A107.5 107.5 0 0 1 474.1 387.0Q531.4 296.0 638.3 307.6Z"/>
<path d="M625.3 348.4A107.5 107.5 0 0 1 624.4 349.9Q531.4 296.0 476.0 203.9A107.5 107.5 0 0 1 477.7 202.9Q531.4 296.0 625.3 348.4Z"/>
<path d="M424.0 291.5A107.5 107.5 0 0 1 424.0 291.0Q531.4 296.0 633.7 263.0A107.5 107.5 0 0 1 634.4 265.1Q531.4 296.0 424.0 291.5Z"/>
<path d="M472.5 386.0A107.5 107.5 0 0 1 468.2 383.0Q531.4 296.0 613.7 226.8A107.5 107.5 0 0 1 615.2 228.7Q531.4 296.0 472.5 386.0Z"/>
<path d="M544.3 402.7A107.5 107.5 0 0 1 541.1 403.1Q531.4 296.0 520.2 189.1A107.5 107.5 0 0 1 521.0 189.0Q531.4 296.0 544.3 402.7Z"/>
<path d="M535.4 403.4A107.5 107.5 0 0 1 532.0 403.5Q531.4 296.0 473.1 205.7A107.5 107.5 0 0 1 475.9 204.0Q531.4 296.0 535.4 403.4Z"/>
<path d="M432.5 253.9A107.5 107.5 0 0 1 432.8 253.3Q531.4 296.0 482.0 200.5A107.5 107.5 0 0 1 482.4 200.3Q531.4 296.0 432.5 253.9Z"/>
<path d="M536.4 403.4A107.5 107.5 0 0 1 535.4 403.4Q531.4 296.0 483.3 199.9A107.5 107.5 0 0 1 483.8 199.6Q531.4 296.0 536.4 403.4Z"/>
<path d="M636.7 317.9A107.5 107.5 0 0 1 636.6 317.9Q531.4 296.0 424.0 299.5A107.5 107.5 0 0 1 424.0 299.4Q531.4 296.0 636.7 317.9Z"/>
<path d="M528.9 403.5A107.5 107.5 0 0 1 525.8 403.4Q531.4 296.0 423.9 295.1A107.5 107.5 0 0 1 423.9 293.9Q531.4 296.0 528.9 403.5Z"/>
<path d="M457.0 373.6A107.5 107.5 0 0 1 455.0 371.6Q531.4 296.0 437.4 243.9A107.5 107.5 0 0 1 439.2 240.7Q531.4 296.0 457.0 373.6Z"/>
<path d="M450.7 367.1A107.5 107.5 0 0 1 450.5 366.8Q531.4 296.0 432.4 337.9A107.5 107.5 0 0 1 432.3 337.7Q531.4 296.0 450.7 367.1Z"/>
<path d="M432.6 338.3A107.5 107.5 0 0 1 432.5 338.1Q531.4 296.0 426.5 272.5A107.5 107.5 0 0 1 426.6 272.2Q531.4 296.0 432.6 338.3Z"/>
<path d="M481.1 201.0A107.5 107.5 0 0 1 481.1 201.0Q531.4 296.0 612.5 225.4A107.5 107.5 0 0 1 612.6 225.5Q531.4 296.0 481.1 201.0Z"/>
<path d="M425.7 276.6A107.5 107.5 0 0 1 425.7 276.5Q531.4 296.0 519.8 189.1A107.5 107.5 0 0 1 519.9 189.1Q531.4 296.0 425.7 276.6Z"/>
<path d="M523.7 403.2A107.5 107.5 0 0 1 520.3 402.9Q531.4 296.0 429.2 329.4A107.5 107.5 0 0 1 428.5 327.1Q531.4 296.0 523.7 403.2Z"/>
<path d="M432.4 337.9A107.5 107.5 0 0 1 432.4 337.9Q531.4 296.0 425.2 312.5A107.5 107.5 0 0 1 425.2 312.5Q531.4 296.0 432.4 337.9Z"/>
<path d="M504.5 191.9A107.5 107.5 0 0 1 506.3 191.5Q531.4 296.0 627.1 247.0A107.5 107.5 0 0 1 628.7 250.4Q531.4 296.0 504.5 191.9Z"/>
<path d="M424.1 289.9A107.5 107.5 0 0 1 424.1 289.8Q531.4 296.0 452.8 222.6A107.5 107.5 0 0 1 453.0 222.5Q531.4 296.0 424.1 289.9Z"/>
<path d="M430.6 333.4A107.5 107.5 0 0 1 430.6 333.3Q531.4 296.0 512.5 190.2A107.5 107.5 0 0 1 512.7 190.1Q531.4 296.0 430.6 333.4Z"/>
<path d="M637.6 312.9A107.5 107.5 0 0 1 637.5 313.2Q531.4 296.0 636.2 319.8A107.5 107.5 0 0 1 636.2 320.0Q531.4 296.0 637.6 312.9Z"/>
<path d="M637.1 315.8A107.5 107.5 0 0 1 637.0 315.9Q531.4 296.0 609.2 221.8A107.5 107.5 0 0 1 609.5 222.2Q531.4 296.0 637.1 315.8Z"/>
<path d="M638.4 306.1A107.5 107.5 0 0 1 638.4 306.4Q531.4 296.0 428.4 326.8A107.5 107.5 0 0 1 428.3 326.4Q531.4 296.0 638.4 306.1Z"/>
<path d="M460.7 377.0A107.5 107.5 0 0 1 460.2 376.6Q531.4 296.0 519.9 189.1A107.5 107.5 0 0 1 520.2 189.1Q531.4 296.0 460.7 377.0Z"/>
<path d="M430.6 333.3A107.5 107.5 0 0 1 430.4 332.8Q531.4 296.0 493.9 195.2A107.5 107.5 0 0 1 494.3 195.1Q531.4 296.0 430.6 333.3Z"/>
<path d="M431.0 334.5A107.5 107.5 0 0 1 430.6 333.4Q531.4 296.0 560.2 192.4A107.5 107.5 0 0 1 560.7 192.6Q531.4 296.0 431.0 334.5Z"/>
<path d="M576.9 393.4A107.5 107.5 0 0 1 576.7 393.5Q531.4 296.0 426.1 317.5A107.5 107.5 0 0 1 426.0 317.1Q531.4 296.0 576.9 393.4Z"/>
<path d="M454.2 370.8A107.5 107.5 0 0 1 453.9 370.5Q531.4 296.0 423.9 295.4A107.5 107.5 0 0 1 423.9 295.1Q531.4 296.0 454.2 370.8Z"/>
<path d="M424.0 291.0A107.5 107.5 0 0 1 424.0 290.8Q531.4 296.0 607.1 219.7A107.5 107.5 0 0 1 607.4 220.0Q531.4 296.0 424.0 291.0Z"/>
<path d="M636.6 317.9A107.5 107.5 0 0 1 636.6 318.1Q531.4 296.0 428.5 327.0A107.5 107.5 0 0 1 428.4 326.8Q531.4 296.0 636.6 317.9Z"/>
<path d="M578.9 392.4A107.5 107.5 0 0 1 578.9 392.5Q531.4 296.0 521.0 189.0A107.5 107.5 0 0 1 521.0 189.0Q531.4 296.0 578.9 392.4Z"/>
<path d="M426.9 321.1A107.5 107.5 0 0 1 426.9 321.0Q531.4 296.0 423.9 295.5A107.5 107.5 0 0 1 423.9 295.4Q531.4 296.0 426.9 321.1Z"/>
<path d="M424.8 310.0A107.5 107.5 0 0 1 424.7 309.1Q531.4 296.0 634.6 266.0A107.5 107.5 0 0 1 635.4 268.6Q531.4 296.0 424.8 310.0Z"/>
<path d="M424.3 305.1A107.5 107.5 0 0 1 424.2 304.0Q531.4 296.0 453.2 222.2A107.5 107.5 0 0 1 454.1 221.3Q531.4 296.0 424.3 305.1Z"/>
<path d="M636.7 317.4A107.5 107.5 0 0 1 636.7 317.5Q531.4 296.0 458.2 217.3A107.5 107.5 0 0 1 458.4 217.1Q531.4 296.0 636.7 317.4Z"/>
<path d="M453.9 370.5A107.5 107.5 0 0 1 453.1 369.7Q531.4 296.0 424.1 301.8A107.5 107.5 0 0 1 424.0 300.6Q531.4 296.0 453.9 370.5Z"/>
<path d="M578.5 392.7A107.5 107.5 0 0 1 578.4 392.7Q531.4 296.0 475.9 204.0A107.5 107.5 0 0 1 476.0 203.9Q531.4 296.0 578.5 392.7Z"/>
<path d="M427.4 323.3A107.5 107.5 0 0 1 427.3 322.9Q531.4 296.0 472.4 206.1A107.5 107.5 0 0 1 472.8 205.9Q531.4 296.0 427.4 323.3Z"/>
<path d="M433.8 250.9A107.5 107.5 0 0 1 435.0 248.3Q531.4 296.0 450.4 225.3A107.5 107.5 0 0 1 452.1 223.4Q531.4 296.0 433.8 250.9Z"/>
<path d="M636.9 316.6A107.5 107.5 0 0 1 636.9 316.8Q531.4 296.0 501.8 192.7A107.5 107.5 0 0 1 502.0 192.6Q531.4 296.0 636.9 316.6Z"/>
<path d="M636.3 319.3A107.5 107.5 0 0 1 636.2 319.8Q531.4 296.0 586.1 388.5A107.5 107.5 0 0 1 585.3 389.0Q531.4 296.0 636.3 319.3Z"/>
<path d="M425.4 313.8A107.5 107.5 0 0 1 425.4 313.7Q531.4 296.0 607.8 220.4A107.5 107.5 0 0 1 608.3 220.9Q531.4 296.0 425.4 313.8Z"/>
<path d="M519.3 189.2A107.5 107.5 0 0 1 519.4 189.2Q531.4 296.0 612.2 225.1A107.5 107.5 0 0 1 612.3 225.2Q531.4 296.0 519.3 189.2Z"/>
<path d="M507.1 191.3A107.5 107.5 0 0 1 507.4 191.2Q531.4 296.0 519.5 189.2A107.5 107.5 0 0 1 519.6 189.1Q531.4 296.0 507.1 191.3Z"/>
<path d="M627.4 344.4A107.5 107.5 0 0 1 626.5 346.0Q531.4 296.0 514.5 189.8A107.5 107.5 0 0 1 516.7 189.5Q531.4 296.0 627.4 344.4Z"/>
<path d="M460.2 376.6A107.5 107.5 0 0 1 459.6 376.0Q531.4 296.0 512.9 190.1A107.5 107.5 0 0 1 514.2 189.9Q531.4 296.0 460.2 376.6Z"/>
<path d="M578.5 392.6A107.5 107.5 0 0 1 578.5 392.7Q531.4 296.0 483.8 199.6A107.5 107.5 0 0 1 483.8 199.6Q531.4 296.0 578.5 392.6Z"/>
<path d="M432.9 339.0A107.5 107.5 0 0 1 432.8 338.8Q531.4 296.0 636.2 272.2A107.5 107.5 0 0 1 636.4 273.1Q531.4 296.0 432.9 339.0Z"/>
<path d="M431.4 335.6A107.5 107.5 0 0 1 431.1 334.7Q531.4 296.0 635.6 269.5A107.5 107.5 0 0 1 636.2 272.2Q531.4 296.0 431.4 335.6Z"/>
<path d="M481.8 200.6A107.5 107.5 0 0 1 481.8 200.6Q531.4 296.0 519.6 189.1A107.5 107.5 0 0 1 519.6 189.1Q531.4 296.0 481.8 200.6Z"/>
<path d="M638.9 297.9A107.5 107.5 0 0 1 638.8 300.8Q531.4 296.0 597.2 211.0A107.5 107.5 0 0 1 598.5 212.0Q531.4 296.0 638.9 297.9Z"/>
<path d="M429.9 331.3A107.5 107.5 0 0 1 429.8 331.0Q531.4 296.0 424.1 302.4A107.5 107.5 0 0 1 424.1 302.0Q531.4 296.0 429.9 331.3Z"/>
<path d="M579.4 392.2A107.5 107.5 0 0 1 579.4 392.2Q531.4 296.0 615.6 229.2A107.5 107.5 0 0 1 615.7 229.2Q531.4 296.0 579.4 392.2Z"/>
<path d="M638.4 306.6A107.5 107.5 0 0 1 638.3 307.6Q531.4 296.0 434.0 341.5A107.5 107.5 0 0 1 433.6 340.6Q531.4 296.0 638.4 306.6Z"/>
<path d="M430.2 332.2A107.5 107.5 0 0 1 430.0 331.7Q531.4 296.0 437.0 244.6A107.5 107.5 0 0 1 437.3 244.0Q531.4 296.0 430.2 332.2Z"/>
</g>
<path d="M623.4 351.7A107.5 107.5 0 0 1 618.0 359.6Q531.4 296.0 439.7 239.8A107.5 107.5 0 0 1 444.4 232.8Q531.4 296.0 623.4 351.7Z" fill="#8A7220"/>
<path d="M428.1 266.4A107.5 107.5 0 0 1 431.2 257.0Q531.4 296.0 547.1 189.7A107.5 107.5 0 0 1 554.9 191.1Q531.4 296.0 428.1 266.4Z" fill="#7B3FD1"/>
<path d="M468.2 383.0A107.5 107.5 0 0 1 460.7 377.0Q531.4 296.0 560.9 192.6A107.5 107.5 0 0 1 569.6 195.5Q531.4 296.0 468.2 383.0Z" fill="#7B6E9E"/>
<path d="M523.9 188.8A107.5 107.5 0 0 1 535.2 188.6Q531.4 296.0 620.5 235.9A107.5 107.5 0 0 1 626.7 246.2Q531.4 296.0 523.9 188.8Z" fill="#03003A"/>
<path d="M519.6 402.9A107.5 107.5 0 0 1 500.0 398.8Q531.4 296.0 450.5 366.8A107.5 107.5 0 0 1 439.2 351.2Q531.4 296.0 519.6 402.9Z" fill="#3CC033"/>
<path d="M612.5 366.5A107.5 107.5 0 0 1 604.7 374.6Q531.4 296.0 439.2 351.2A107.5 107.5 0 0 1 434.4 342.3Q531.4 296.0 612.5 366.5Z" fill="#8A7220"/>
<path d="M604.7 374.6A107.5 107.5 0 0 1 586.4 388.3Q531.4 296.0 499.3 398.6A107.5 107.5 0 0 1 474.8 387.4Q531.4 296.0 604.7 374.6Z" fill="#8A7220"/>
<path d="M633.3 330.1A107.5 107.5 0 0 1 627.9 343.3Q531.4 296.0 584.3 202.4A107.5 107.5 0 0 1 596.8 210.7Q531.4 296.0 633.3 330.1Z" fill="#8A7220"/>
<path d="M559.4 399.8A107.5 107.5 0 0 1 544.3 402.7Q531.4 296.0 569.7 195.6A107.5 107.5 0 0 1 584.0 202.3Q531.4 296.0 559.4 399.8Z" fill="#3CC033"/>
<path d="M572.2 395.5A107.5 107.5 0 0 1 562.1 399.0Q531.4 296.0 636.4 273.1A107.5 107.5 0 0 1 638.2 284.0Q531.4 296.0 572.2 395.5Z" fill="#3CC033"/>
<path d="M647.90 296.81A116.5 116.5 0 0 1 646.40 314.63L640.48 313.67A110.5 110.5 0 0 0 641.90 296.77Z" fill="#84866A"/>
<path d="M650.3 297.3L651.7 297.4" stroke="#84866A" stroke-width="0.8"/>
<path d="M646.06 316.63A116.5 116.5 0 0 1 644.96 322.01L639.11 320.67A110.5 110.5 0 0 0 640.15 315.57Z" fill="#F4A999"/>
<path d="M648.3 317.6L649.7 317.8" stroke="#F4A999" stroke-width="0.8"/>
<path d="M644.59 323.59A116.5 116.5 0 0 1 585.19 399.34L582.42 394.01A110.5 110.5 0 0 0 638.76 322.17Z" fill="#8A7220"/>
<path d="M646.8 324.7L648.2 325.0" stroke="#8A7220" stroke-width="0.8"/>
<path d="M583.75 400.08A116.5 116.5 0 0 1 578.78 402.43L576.34 396.95A110.5 110.5 0 0 0 581.05 394.72Z" fill="#C8FF32"/>
<path d="M584.4 402.5L585.0 403.7" stroke="#C8FF32" stroke-width="0.8"/>
<path d="M576.73 403.32A116.5 116.5 0 0 1 469.32 394.58L472.52 389.50A110.5 110.5 0 0 0 574.40 397.79Z" fill="#3CC033"/>
<path d="M577.2 405.7L577.7 407.0" stroke="#3CC033" stroke-width="0.8"/>
<path d="M467.61 393.48A116.5 116.5 0 0 1 425.39 344.31L430.85 341.82A110.5 110.5 0 0 0 470.89 388.46Z" fill="#7B6E9E"/>
<path d="M465.9 395.2L465.1 396.4" stroke="#7B6E9E" stroke-width="0.8"/>
<path d="M424.64 342.64A116.5 116.5 0 0 1 423.69 340.39L429.24 338.11A110.5 110.5 0 0 0 430.14 340.24Z" fill="#6B0F5E"/>
<path d="M422.2 343.1L421.0 343.7" stroke="#6B0F5E" stroke-width="0.8"/>
<path d="M423.08 338.89A116.5 116.5 0 0 1 419.64 328.89L425.40 327.20A110.5 110.5 0 0 0 428.66 336.68Z" fill="#231C08"/>
<path d="M420.7 339.3L419.4 339.8" stroke="#231C08" stroke-width="0.8"/>
<path d="M419.08 326.94A116.5 116.5 0 0 1 416.85 317.23L422.75 316.14A110.5 110.5 0 0 0 424.87 325.34Z" fill="#FB2CF5"/>
<path d="M416.6 327.1L415.3 327.4" stroke="#FB2CF5" stroke-width="0.8"/>
<path d="M416.53 315.43A116.5 116.5 0 0 1 416.15 313.02L422.09 312.14A110.5 110.5 0 0 0 422.45 314.43Z" fill="#F08A2C"/>
<path d="M414.1 315.3L412.7 315.5" stroke="#F08A2C" stroke-width="0.8"/>
<path d="M415.90 311.21A116.5 116.5 0 0 1 414.95 299.25L420.94 299.09A110.5 110.5 0 0 0 421.85 310.42Z" fill="#EE2A5E"/>
<path d="M413.5 311.0L412.1 311.2" stroke="#EE2A5E" stroke-width="0.8"/>
<path d="M414.91 297.22A116.5 116.5 0 0 1 414.94 292.95L420.94 293.11A110.5 110.5 0 0 0 420.91 297.16Z" fill="#A5CC60"/>
<path d="M412.5 296.7L411.1 296.7" stroke="#A5CC60" stroke-width="0.8"/>
<path d="M415.00 291.12A116.5 116.5 0 0 1 415.31 286.25L421.29 286.75A110.5 110.5 0 0 0 421.00 291.37Z" fill="#F9A8F9"/>
<path d="M412.6 290.5L411.2 290.4" stroke="#F9A8F9" stroke-width="0.8"/>
<path d="M415.50 284.23A116.5 116.5 0 0 1 418.31 268.01L424.14 269.45A110.5 110.5 0 0 0 421.47 284.83Z" fill="#4A9E90"/>
<path d="M413.2 283.5L411.8 283.3" stroke="#4A9E90" stroke-width="0.8"/>
<path d="M418.77 266.24A116.5 116.5 0 0 1 438.24 226.05L443.03 229.65A110.5 110.5 0 0 0 424.57 267.77Z" fill="#7B3FD1"/>
<path d="M416.6 265.1L415.2 264.8" stroke="#7B3FD1" stroke-width="0.8"/>
<path d="M439.35 224.60A116.5 116.5 0 0 1 453.75 209.15L457.75 213.62A110.5 110.5 0 0 0 444.09 228.27Z" fill="#6FFFD0"/>
<path d="M437.8 222.7L436.7 221.9" stroke="#6FFFD0" stroke-width="0.8"/>
<path d="M454.97 208.08A116.5 116.5 0 0 1 474.92 194.11L477.83 199.35A110.5 110.5 0 0 0 458.91 212.60Z" fill="#96504A"/>
<path d="M453.8 205.9L452.9 204.9" stroke="#96504A" stroke-width="0.8"/>
<path d="M476.53 193.23A116.5 116.5 0 0 1 480.88 191.02L483.48 196.43A110.5 110.5 0 0 0 479.35 198.52Z" fill="#4DA6F5"/>
<path d="M475.9 190.9L475.2 189.6" stroke="#4DA6F5" stroke-width="0.8"/>
<path d="M482.53 190.24A116.5 116.5 0 0 1 500.46 183.68L502.06 189.47A110.5 110.5 0 0 0 485.05 195.69Z" fill="#E8D73C"/>
<path d="M482.0 187.8L481.4 186.6" stroke="#E8D73C" stroke-width="0.8"/>
<path d="M502.23 183.21A116.5 116.5 0 0 1 516.60 180.44L517.36 186.40A110.5 110.5 0 0 0 503.73 189.02Z" fill="#2A5E12"/>
<path d="M502.1 180.8L501.8 179.4" stroke="#2A5E12" stroke-width="0.8"/>
<path d="M518.21 180.25A116.5 116.5 0 0 1 520.64 180.00L521.19 185.97A110.5 110.5 0 0 0 518.89 186.21Z" fill="#FF2CD8"/>
<path d="M518.5 177.8L518.3 176.4" stroke="#FF2CD8" stroke-width="0.8"/>
<path d="M522.46 179.84A116.5 116.5 0 0 1 604.08 204.95L600.34 209.64A110.5 110.5 0 0 0 522.92 185.83Z" fill="#03003A"/>
<path d="M522.8 177.4L522.7 176.0" stroke="#03003A" stroke-width="0.8"/>
<path d="M605.66 206.24A116.5 116.5 0 0 1 617.02 216.99L612.61 221.06A110.5 110.5 0 0 0 601.84 210.86Z" fill="#40FF20"/>
<path d="M607.6 204.7L608.5 203.6" stroke="#40FF20" stroke-width="0.8"/>
<path d="M618.38 218.50A116.5 116.5 0 0 1 622.83 223.80L618.12 227.51A110.5 110.5 0 0 0 613.90 222.49Z" fill="#F01010"/>
<path d="M620.5 217.3L621.6 216.4" stroke="#F01010" stroke-width="0.8"/>
<path d="M623.95 225.24A116.5 116.5 0 0 1 647.89 294.58L641.89 294.65A110.5 110.5 0 0 0 619.18 228.88Z" fill="#1400F0"/>
<path d="M626.2 224.2L627.3 223.4" stroke="#1400F0" stroke-width="0.8"/>
<text transform="translate(658.3 306.7) rotate(4.8)" dy="-0.1" font-size="5.65" fill="#111">ATRX_snv</text>
<text transform="translate(656.1 321.5) rotate(11.6)" dy="-0.1" font-size="5.65" fill="#111">BRAF_snv</text>
<text transform="translate(631.6 374.5) rotate(38.1)" dy="-0.1" font-size="5.65" fill="#111">CDKN2A_Loss</text>
<text transform="translate(585.9 411.0) rotate(64.7)" dy="-0.1" font-size="5.65" fill="#111">CDKN2A_snv</text>
<text transform="translate(521.1 422.9) rotate(-85.3)" text-anchor="end" dy="4.5" font-size="5.65" fill="#111">EGFR_gain</text>
<text transform="translate(434.8 378.9) rotate(-40.7)" text-anchor="end" dy="4.5" font-size="5.65" fill="#111">EGFR_snv</text>
<text transform="translate(414.2 345.7) rotate(-23.0)" text-anchor="end" dy="4.5" font-size="5.65" fill="#111">FGFR2_gain</text>
<text transform="translate(411.0 337.4) rotate(-19.0)" text-anchor="end" dy="4.5" font-size="5.65" fill="#111">FGFR2_snv</text>
<text transform="translate(407.3 324.5) rotate(-12.9)" text-anchor="end" dy="4.5" font-size="5.65" fill="#111">IDH1_snv</text>
<text transform="translate(405.7 315.9) rotate(-9.0)" text-anchor="end" dy="4.5" font-size="5.65" fill="#111">IDH2_snv</text>
<text transform="translate(404.5 306.1) rotate(-4.6)" text-anchor="end" dy="4.5" font-size="5.65" fill="#111">MDM4_gain</text>
<text transform="translate(404.1 295.0) rotate(0.4)" text-anchor="end" dy="4.5" font-size="5.65" fill="#111">MDM4_snv</text>
<text transform="translate(404.4 288.0) rotate(3.6)" text-anchor="end" dy="4.5" font-size="5.65" fill="#111">MET_gain</text>
<text transform="translate(406.0 274.2) rotate(9.9)" text-anchor="end" dy="4.5" font-size="5.65" fill="#111">MET_snv</text>
<text transform="translate(416.8 240.5) rotate(25.9)" text-anchor="end" dy="4.5" font-size="5.65" fill="#111">NF1_snv</text>
<text transform="translate(438.3 209.2) rotate(43.0)" text-anchor="end" dy="4.5" font-size="5.65" fill="#111">PDGFRA_gain</text>
<text transform="translate(458.4 191.7) rotate(55.0)" text-anchor="end" dy="4.5" font-size="5.65" fill="#111">PDGFRA_snv</text>
<text transform="translate(473.8 182.5) rotate(63.1)" text-anchor="end" dy="4.5" font-size="5.65" fill="#111">PIK3CA_gain</text>
<text transform="translate(487.7 176.5) rotate(69.9)" text-anchor="end" dy="4.5" font-size="5.65" fill="#111">PIK3CA_snv</text>
<text transform="translate(507.3 171.0) rotate(79.1)" text-anchor="end" dy="4.5" font-size="5.65" fill="#111">PIK3R1_snv</text>
<text transform="translate(518.3 169.4) rotate(84.1)" text-anchor="end" dy="4.5" font-size="5.65" fill="#111">PTEN_Loss</text>
<text transform="translate(568.8 174.3) rotate(287.1)" dy="-0.1" font-size="5.65" fill="#111">PTEN_snv</text>
<text transform="translate(618.9 203.6) rotate(313.5)" dy="-0.1" font-size="5.65" fill="#111">RB1_snv</text>
<text transform="translate(628.9 214.2) rotate(320.0)" dy="-0.1" font-size="5.65" fill="#111">TP53_gain</text>
<text transform="translate(651.7 254.5) rotate(341.0)" dy="-0.1" font-size="5.65" fill="#111">TP53_snv</text>
<text x="-0.2" y="412.4" font-size="16" font-weight="bold" fill="#000" stroke="#000" stroke-width="0.35">e.</text>
<rect x="107.3" y="398.3" width="182.5" height="368.1" fill="#fff"/>
<path d="M128.7 398.3V766.4M172.4 398.3V766.4M216.1 398.3V766.4M259.8 398.3V766.4" stroke="#F0F0F0" stroke-width="0.45"/>
<path d="M150.5 398.3V766.4M194.2 398.3V766.4M238.0 398.3V766.4M281.7 398.3V766.4M107.3 403.9H289.8M107.3 412.4H289.8M107.3 420.9H289.8M107.3 429.4H289.8M107.3 437.9H289.8M107.3 446.4H289.8M107.3 454.9H289.8M107.3 463.4H289.8M107.3 472.0H289.8M107.3 480.5H289.8M107.3 489.0H289.8M107.3 497.5H289.8M107.3 506.0H289.8M107.3 514.5H289.8M107.3 523.0H289.8M107.3 531.6H289.8M107.3 540.1H289.8M107.3 548.6H289.8M107.3 557.1H289.8M107.3 565.6H289.8M107.3 574.1H289.8M107.3 582.6H289.8M107.3 591.2H289.8M107.3 599.7H289.8M107.3 608.2H289.8M107.3 616.7H289.8M107.3 625.2H289.8M107.3 633.7H289.8M107.3 642.2H289.8M107.3 650.8H289.8M107.3 659.3H289.8M107.3 667.8H289.8M107.3 676.3H289.8M107.3 684.8H289.8M107.3 693.3H289.8M107.3 701.8H289.8M107.3 710.4H289.8M107.3 718.9H289.8M107.3 727.4H289.8M107.3 735.9H289.8M107.3 744.4H289.8M107.3 752.9H289.8M107.3 761.4H289.8" stroke="#E6E6E6" stroke-width="0.75"/>
<rect x="198.6" y="400.8" width="15.2" height="6.1" fill="#CCCCCC" stroke="#333333" stroke-width="1.5"/>
<path d="M190.6 403.9H222.1" stroke="#333333" stroke-width="1.7"/>
<path d="M206.7 400.8V406.9" stroke="#333333" stroke-width="2.0"/>
<rect x="199.0" y="408.4" width="2.3" height="7.9" fill="#ddd" stroke="#333333" stroke-width="1.5"/>
<rect x="191.1" y="417.8" width="63.7" height="6.1" fill="#C8C8C8" stroke="#333333" stroke-width="1.5"/>
<path d="M137.9 420.9H282.4" stroke="#333333" stroke-width="1.7"/>
<path d="M200.2 417.8V423.9" stroke="#333333" stroke-width="2.0"/>
<rect x="174.5" y="426.3" width="54.2" height="6.1" fill="#C6C6C6" stroke="#333333" stroke-width="1.5"/>
<path d="M119.0 429.4H261.4" stroke="#333333" stroke-width="1.7"/>
<path d="M199.3 426.3V432.4" stroke="#333333" stroke-width="2.0"/>
<path d="M195.5 434.7V441.2" stroke="#333333" stroke-width="2.4" stroke-linecap="round"/>
<rect x="190.4" y="443.4" width="7.5" height="6.1" fill="#C1C1C1" stroke="#333333" stroke-width="1.5"/>
<ellipse cx="194.2" cy="446.4" rx="6.3" ry="1.5" fill="#fff" stroke="#333333" stroke-width="1.0"/>
<rect x="190.4" y="451.9" width="7.5" height="6.1" fill="#BFBFBF" stroke="#333333" stroke-width="1.5"/>
<path d="M158.4 454.9H202.6" stroke="#333333" stroke-width="1.7"/>
<path d="M194.8 452.8L202.5 454.9L194.8 457.0Z" fill="#f2f2f2" stroke="#333333" stroke-width="1.0" stroke-linejoin="round"/>
<path d="M194.2 451.9V458.0" stroke="#333333" stroke-width="2.0"/>
<circle cx="158.4" cy="454.9" r="3.0" fill="#333333"/>
<circle cx="175.4" cy="454.9" r="3.0" fill="#333333"/>
<circle cx="178.0" cy="454.9" r="3.0" fill="#333333"/>
<path d="M192.9 460.2V466.7" stroke="#333333" stroke-width="2.4" stroke-linecap="round"/>
<rect x="189.9" y="468.9" width="32.2" height="6.1" fill="#BABABA" stroke="#333333" stroke-width="1.5"/>
<path d="M127.8 472.0H268.8" stroke="#333333" stroke-width="1.7"/>
<path d="M193.4 468.9V475.0" stroke="#333333" stroke-width="2.0"/>
<circle cx="127.8" cy="472.0" r="3.0" fill="#333333"/>
<circle cx="132.7" cy="472.0" r="3.0" fill="#333333"/>
<rect x="162.8" y="477.4" width="43.9" height="6.1" fill="#B8B8B8" stroke="#333333" stroke-width="1.5"/>
<path d="M115.2 480.5H255.6" stroke="#333333" stroke-width="1.7"/>
<path d="M192.0 477.4V483.5" stroke="#333333" stroke-width="2.0"/>
<rect x="180.3" y="485.9" width="21.9" height="6.1" fill="#B5B5B5" stroke="#333333" stroke-width="1.5"/>
<path d="M116.1 489.0H222.1" stroke="#333333" stroke-width="1.7"/>
<path d="M191.5 485.9V492.0" stroke="#333333" stroke-width="2.0"/>
<circle cx="116.1" cy="489.0" r="3.0" fill="#333333"/>
<circle cx="119.0" cy="489.0" r="3.0" fill="#333333"/>
<rect x="184.6" y="494.5" width="11.7" height="6.1" fill="#B3B3B3" stroke="#333333" stroke-width="1.5"/>
<path d="M120.4 497.5H205.1" stroke="#333333" stroke-width="1.7"/>
<path d="M190.6 494.5V500.6" stroke="#333333" stroke-width="2.0"/>
<circle cx="120.4" cy="497.5" r="3.0" fill="#333333"/>
<rect x="175.0" y="503.0" width="38.8" height="6.1" fill="#B1B1B1" stroke="#333333" stroke-width="1.5"/>
<path d="M119.9 506.0H246.9" stroke="#333333" stroke-width="1.7"/>
<path d="M190.6 503.0V509.1" stroke="#333333" stroke-width="2.0"/>
<rect x="187.1" y="511.5" width="24.7" height="6.1" fill="#AEAEAE" stroke="#333333" stroke-width="1.5"/>
<path d="M183.2 514.5H233.8" stroke="#333333" stroke-width="1.7"/>
<path d="M190.6 511.5V517.6" stroke="#333333" stroke-width="2.0"/>
<rect x="178.0" y="520.0" width="17.5" height="6.1" fill="#ABABAB" stroke="#333333" stroke-width="1.5"/>
<path d="M116.9 523.0H208.6" stroke="#333333" stroke-width="1.7"/>
<path d="M189.0 520.0V526.1" stroke="#333333" stroke-width="2.0"/>
<circle cx="116.9" cy="523.0" r="3.0" fill="#333333"/>
<circle cx="119.0" cy="523.0" r="3.0" fill="#333333"/>
<circle cx="121.8" cy="523.0" r="3.0" fill="#333333"/>
<rect x="169.2" y="528.5" width="65.1" height="6.1" fill="#A9A9A9" stroke="#333333" stroke-width="1.5"/>
<path d="M115.2 531.6H274.5" stroke="#333333" stroke-width="1.7"/>
<path d="M189.0 528.5V534.6" stroke="#333333" stroke-width="2.0"/>
<rect x="159.3" y="537.0" width="36.2" height="6.1" fill="#A6A6A6" stroke="#333333" stroke-width="1.5"/>
<path d="M117.5 540.1H213.0" stroke="#333333" stroke-width="1.7"/>
<path d="M187.6 537.0V543.1" stroke="#333333" stroke-width="2.0"/>
<rect x="181.0" y="545.5" width="11.0" height="6.1" fill="#A3A3A3" stroke="#333333" stroke-width="1.5"/>
<path d="M165.0 548.6H202.1" stroke="#333333" stroke-width="1.7"/>
<path d="M186.7 545.5V551.6" stroke="#333333" stroke-width="2.0"/>
<rect x="168.5" y="554.1" width="22.9" height="6.1" fill="#A1A1A1" stroke="#333333" stroke-width="1.5"/>
<path d="M124.3 557.1H201.2" stroke="#333333" stroke-width="1.7"/>
<path d="M185.3 554.1V560.2" stroke="#333333" stroke-width="2.0"/>
<circle cx="124.3" cy="557.1" r="3.0" fill="#333333"/>
<rect x="179.7" y="562.6" width="7.0" height="6.1" fill="#9E9E9E" stroke="#333333" stroke-width="1.5"/>
<path d="M170.5 565.6H191.5" stroke="#333333" stroke-width="1.7"/>
<path d="M183.0 563.5L191.3 565.6L183.0 567.7Z" fill="#f2f2f2" stroke="#333333" stroke-width="1.0" stroke-linejoin="round"/>
<path d="M182.5 562.6V568.7" stroke="#333333" stroke-width="2.0"/>
<path d="M175.5 574.1L177.7 571.1H182.8L185.0 574.1L182.8 577.2H177.7Z" fill="#9B9B9B" stroke="#333333" stroke-width="1.5" stroke-linejoin="round"/>
<path d="M175.5 574.1H185.0" stroke="#333333" stroke-width="1.2"/>
<path d="M180.1 571.1V577.2" stroke="#333333" stroke-width="2.0"/>
<rect x="167.5" y="579.6" width="20.1" height="6.1" fill="#989898" stroke="#333333" stroke-width="1.5"/>
<path d="M164.5 582.6H196.2" stroke="#333333" stroke-width="1.7"/>
<path d="M176.9 579.6V585.7" stroke="#333333" stroke-width="2.0"/>
<rect x="167.5" y="588.1" width="17.5" height="6.1" fill="#959595" stroke="#333333" stroke-width="1.5"/>
<path d="M116.1 591.2H256.2" stroke="#333333" stroke-width="1.7"/>
<path d="M172.9 588.1V594.2" stroke="#333333" stroke-width="2.0"/>
<circle cx="116.1" cy="591.2" r="3.0" fill="#333333"/>
<circle cx="131.5" cy="591.2" r="3.0" fill="#333333"/>
<circle cx="133.6" cy="591.2" r="3.0" fill="#333333"/>
<circle cx="256.2" cy="591.2" r="3.0" fill="#333333"/>
<rect x="162.8" y="596.6" width="21.0" height="6.1" fill="#929292" stroke="#333333" stroke-width="1.5"/>
<path d="M133.6 599.7H235.2" stroke="#333333" stroke-width="1.7"/>
<path d="M170.1 596.6V602.7" stroke="#333333" stroke-width="2.0"/>
<circle cx="213.8" cy="599.7" r="3.0" fill="#333333"/>
<circle cx="235.2" cy="599.7" r="3.0" fill="#333333"/>
<rect x="151.7" y="605.1" width="32.9" height="6.1" fill="#8F8F8F" stroke="#333333" stroke-width="1.5"/>
<path d="M136.5 608.2H198.4" stroke="#333333" stroke-width="1.7"/>
<path d="M170.1 605.1V611.2" stroke="#333333" stroke-width="2.0"/>
<rect x="153.3" y="613.7" width="41.6" height="6.1" fill="#8B8B8B" stroke="#333333" stroke-width="1.5"/>
<path d="M128.7 616.7H271.7" stroke="#333333" stroke-width="1.7"/>
<path d="M169.2 613.7V619.8" stroke="#333333" stroke-width="2.0"/>
<circle cx="256.2" cy="616.7" r="3.0" fill="#333333"/>
<circle cx="271.7" cy="616.7" r="3.0" fill="#333333"/>
<rect x="158.4" y="622.2" width="19.8" height="6.1" fill="#888888" stroke="#333333" stroke-width="1.5"/>
<path d="M143.9 625.2H196.9" stroke="#333333" stroke-width="1.7"/>
<path d="M166.6 622.2V628.3" stroke="#333333" stroke-width="2.0"/>
<rect x="147.4" y="630.7" width="34.5" height="6.1" fill="#858585" stroke="#333333" stroke-width="1.5"/>
<path d="M129.7 633.7H199.8" stroke="#333333" stroke-width="1.7"/>
<path d="M164.9 630.7V636.8" stroke="#333333" stroke-width="2.0"/>
<rect x="148.3" y="639.2" width="23.3" height="6.1" fill="#818181" stroke="#333333" stroke-width="1.5"/>
<path d="M132.2 642.2H178.9" stroke="#333333" stroke-width="1.7"/>
<path d="M164.2 639.2V645.3" stroke="#333333" stroke-width="2.0"/>
<rect x="121.8" y="647.7" width="73.1" height="6.1" fill="#7D7D7D" stroke="#333333" stroke-width="1.5"/>
<path d="M116.6 650.8H205.1" stroke="#333333" stroke-width="1.7"/>
<path d="M160.7 647.7V653.8" stroke="#333333" stroke-width="2.0"/>
<rect x="156.8" y="656.2" width="11.7" height="6.1" fill="#797979" stroke="#333333" stroke-width="1.5"/>
<path d="M149.7 659.3H192.9" stroke="#333333" stroke-width="1.7"/>
<path d="M159.8 656.2V662.3" stroke="#333333" stroke-width="2.0"/>
<circle cx="192.9" cy="659.3" r="3.0" fill="#333333"/>
<rect x="145.3" y="664.7" width="27.1" height="6.1" fill="#757575" stroke="#333333" stroke-width="1.5"/>
<path d="M131.3 667.8H186.7" stroke="#333333" stroke-width="1.7"/>
<path d="M159.3 664.7V670.8" stroke="#333333" stroke-width="2.0"/>
<rect x="149.1" y="673.2" width="26.8" height="6.1" fill="#717171" stroke="#333333" stroke-width="1.5"/>
<path d="M116.6 676.3H201.2" stroke="#333333" stroke-width="1.7"/>
<path d="M158.4 673.2V679.3" stroke="#333333" stroke-width="2.0"/>
<rect x="137.4" y="681.8" width="39.0" height="6.1" fill="#6D6D6D" stroke="#333333" stroke-width="1.5"/>
<path d="M117.5 684.8H194.9" stroke="#333333" stroke-width="1.7"/>
<path d="M157.5 681.8V687.9" stroke="#333333" stroke-width="2.0"/>
<rect x="126.2" y="690.3" width="81.9" height="6.1" fill="#686868" stroke="#333333" stroke-width="1.5"/>
<path d="M116.1 693.3H278.0" stroke="#333333" stroke-width="1.7"/>
<path d="M148.8 690.3V696.4" stroke="#333333" stroke-width="2.0"/>
<rect x="128.3" y="698.8" width="14.5" height="6.1" fill="#646464" stroke="#333333" stroke-width="1.5"/>
<path d="M117.5 701.8H145.3" stroke="#333333" stroke-width="1.7"/>
<path d="M140.0 698.8V704.9" stroke="#333333" stroke-width="2.0"/>
<rect x="126.9" y="707.3" width="56.8" height="6.1" fill="#5E5E5E" stroke="#333333" stroke-width="1.5"/>
<path d="M121.0 710.4H230.8" stroke="#333333" stroke-width="1.7"/>
<path d="M131.5 707.3V713.4" stroke="#333333" stroke-width="2.0"/>
<rect x="118.2" y="715.8" width="41.6" height="6.1" fill="#595959" stroke="#333333" stroke-width="1.5"/>
<path d="M116.1 718.9H175.9" stroke="#333333" stroke-width="1.7"/>
<path d="M124.3 715.8V721.9" stroke="#333333" stroke-width="2.0"/>
<rect x="121.0" y="724.3" width="24.3" height="6.1" fill="#535353" stroke="#333333" stroke-width="1.5"/>
<path d="M119.9 727.4H189.5" stroke="#333333" stroke-width="1.7"/>
<path d="M123.4 724.3V730.4" stroke="#333333" stroke-width="2.0"/>
<circle cx="189.5" cy="727.4" r="3.0" fill="#333333"/>
<path d="M116.1 735.9H272.8" stroke="#333333" stroke-width="1.7"/>
<path d="M116.1 733.3Q117.6 732.5 119.1 733.3L123.4 735.9L119.1 738.5Q117.6 739.3 116.1 738.5Z" fill="#fff" stroke="#333333" stroke-width="1.1" stroke-linejoin="round"/>
<circle cx="272.8" cy="735.9" r="3.0" fill="#333333"/>
<path d="M117.5 741.2V747.7" stroke="#333333" stroke-width="2.4" stroke-linecap="round"/>
<rect x="116.1" y="749.9" width="48.8" height="6.1" fill="#3D3D3D" stroke="#333333" stroke-width="1.5"/>
<path d="M116.1 752.9H212.4" stroke="#333333" stroke-width="1.7"/>
<path d="M116.6 749.9V756.0" stroke="#333333" stroke-width="2.0"/>
<rect x="116.1" y="758.4" width="37.1" height="6.1" fill="#333333" stroke="#333333" stroke-width="1.5"/>
<path d="M116.1 761.4H189.5" stroke="#333333" stroke-width="1.7"/>
<path d="M116.6 758.4V764.5" stroke="#333333" stroke-width="2.0"/>
<path d="M107.3 398.7H289.8" stroke="#8E8E8E" stroke-width="0.9"/>
<path d="M290.0 398.3V766.4" stroke="#D8D8D8" stroke-width="0.8"/>
<path d="M107.3 398.3V766.4H289.8" fill="none" stroke="#505050" stroke-width="0.9"/>
<path d="M105.1 403.9H107.3M105.1 412.4H107.3M105.1 420.9H107.3M105.1 429.4H107.3M105.1 437.9H107.3M105.1 446.4H107.3M105.1 454.9H107.3M105.1 463.4H107.3M105.1 472.0H107.3M105.1 480.5H107.3M105.1 489.0H107.3M105.1 497.5H107.3M105.1 506.0H107.3M105.1 514.5H107.3M105.1 523.0H107.3M105.1 531.6H107.3M105.1 540.1H107.3M105.1 548.6H107.3M105.1 557.1H107.3M105.1 565.6H107.3M105.1 574.1H107.3M105.1 582.6H107.3M105.1 591.2H107.3M105.1 599.7H107.3M105.1 608.2H107.3M105.1 616.7H107.3M105.1 625.2H107.3M105.1 633.7H107.3M105.1 642.2H107.3M105.1 650.8H107.3M105.1 659.3H107.3M105.1 667.8H107.3M105.1 676.3H107.3M105.1 684.8H107.3M105.1 693.3H107.3M105.1 701.8H107.3M105.1 710.4H107.3M105.1 718.9H107.3M105.1 727.4H107.3M105.1 735.9H107.3M105.1 744.4H107.3M105.1 752.9H107.3M105.1 761.4H107.3M150.5 766.4V768.6M194.2 766.4V768.6M238.0 766.4V768.6M281.7 766.4V768.6" stroke="#333" stroke-width="1.05"/>
<text x="103.6" y="407.1" text-anchor="end" font-size="9" font-weight="bold" fill="#4D4D4D" stroke="#4D4D4D" stroke-width="0.3">KRAS_snv</text>
<text x="103.6" y="415.6" text-anchor="end" font-size="9" font-weight="bold" fill="#4D4D4D" stroke="#4D4D4D" stroke-width="0.3">PTBP1_snv</text>
<text x="103.6" y="424.1" text-anchor="end" font-size="9" font-weight="bold" fill="#4D4D4D" stroke="#4D4D4D" stroke-width="0.3">ATRX_snv</text>
<text x="103.6" y="432.6" text-anchor="end" font-size="9" font-weight="bold" fill="#4D4D4D" stroke="#4D4D4D" stroke-width="0.3">PTEN_snv</text>
<text x="103.6" y="441.1" text-anchor="end" font-size="9" font-weight="bold" fill="#4D4D4D" stroke="#4D4D4D" stroke-width="0.3">CTLA4_snv</text>
<text x="103.6" y="449.6" text-anchor="end" font-size="9" font-weight="bold" fill="#4D4D4D" stroke="#4D4D4D" stroke-width="0.3">MAP3K1_snv</text>
<text x="103.6" y="458.1" text-anchor="end" font-size="9" font-weight="bold" fill="#4D4D4D" stroke="#4D4D4D" stroke-width="0.3">WRN_snv</text>
<text x="103.6" y="466.6" text-anchor="end" font-size="9" font-weight="bold" fill="#4D4D4D" stroke="#4D4D4D" stroke-width="0.3">CREBZF_snv</text>
<text x="103.6" y="475.2" text-anchor="end" font-size="9" font-weight="bold" fill="#4D4D4D" stroke="#4D4D4D" stroke-width="0.3">PDGFRA_snv</text>
<text x="103.6" y="483.7" text-anchor="end" font-size="9" font-weight="bold" fill="#4D4D4D" stroke="#4D4D4D" stroke-width="0.3">GIGYF2_snv</text>
<text x="103.6" y="492.2" text-anchor="end" font-size="9" font-weight="bold" fill="#4D4D4D" stroke="#4D4D4D" stroke-width="0.3">NOTCH2_snv</text>
<text x="103.6" y="500.7" text-anchor="end" font-size="9" font-weight="bold" fill="#4D4D4D" stroke="#4D4D4D" stroke-width="0.3">ARID2_snv</text>
<text x="103.6" y="509.2" text-anchor="end" font-size="9" font-weight="bold" fill="#4D4D4D" stroke="#4D4D4D" stroke-width="0.3">RB1_snv</text>
<text x="103.6" y="517.7" text-anchor="end" font-size="9" font-weight="bold" fill="#4D4D4D" stroke="#4D4D4D" stroke-width="0.3">CD274_snv</text>
<text x="103.6" y="526.2" text-anchor="end" font-size="9" font-weight="bold" fill="#4D4D4D" stroke="#4D4D4D" stroke-width="0.3">NTRK1_snv</text>
<text x="103.6" y="534.8" text-anchor="end" font-size="9" font-weight="bold" fill="#4D4D4D" stroke="#4D4D4D" stroke-width="0.3">TP53_snv</text>
<text x="103.6" y="543.3" text-anchor="end" font-size="9" font-weight="bold" fill="#4D4D4D" stroke="#4D4D4D" stroke-width="0.3">EPHB2_snv</text>
<text x="103.6" y="551.8" text-anchor="end" font-size="9" font-weight="bold" fill="#4D4D4D" stroke="#4D4D4D" stroke-width="0.3">KDR_snv</text>
<text x="103.6" y="560.3" text-anchor="end" font-size="9" font-weight="bold" fill="#4D4D4D" stroke="#4D4D4D" stroke-width="0.3">SETD2_snv</text>
<text x="103.6" y="568.8" text-anchor="end" font-size="9" font-weight="bold" fill="#4D4D4D" stroke="#4D4D4D" stroke-width="0.3">IDH1_snv</text>
<text x="103.6" y="577.3" text-anchor="end" font-size="9" font-weight="bold" fill="#4D4D4D" stroke="#4D4D4D" stroke-width="0.3">CDKN1B_snv</text>
<text x="103.6" y="585.8" text-anchor="end" font-size="9" font-weight="bold" fill="#4D4D4D" stroke="#4D4D4D" stroke-width="0.3">ERRFI1_snv</text>
<text x="103.6" y="594.4" text-anchor="end" font-size="9" font-weight="bold" fill="#4D4D4D" stroke="#4D4D4D" stroke-width="0.3">PIK3CA_snv</text>
<text x="103.6" y="602.9" text-anchor="end" font-size="9" font-weight="bold" fill="#4D4D4D" stroke="#4D4D4D" stroke-width="0.3">MET_snv</text>
<text x="103.6" y="611.4" text-anchor="end" font-size="9" font-weight="bold" fill="#4D4D4D" stroke="#4D4D4D" stroke-width="0.3">NIPBL_snv</text>
<text x="103.6" y="619.9" text-anchor="end" font-size="9" font-weight="bold" fill="#4D4D4D" stroke="#4D4D4D" stroke-width="0.3">NF1_snv</text>
<text x="103.6" y="628.4" text-anchor="end" font-size="9" font-weight="bold" fill="#4D4D4D" stroke="#4D4D4D" stroke-width="0.3">ACADL_snv</text>
<text x="103.6" y="636.9" text-anchor="end" font-size="9" font-weight="bold" fill="#4D4D4D" stroke="#4D4D4D" stroke-width="0.3">MDM4_snv</text>
<text x="103.6" y="645.4" text-anchor="end" font-size="9" font-weight="bold" fill="#4D4D4D" stroke="#4D4D4D" stroke-width="0.3">STAT1_snv</text>
<text x="103.6" y="654.0" text-anchor="end" font-size="9" font-weight="bold" fill="#4D4D4D" stroke="#4D4D4D" stroke-width="0.3">CDKN2A_snv</text>
<text x="103.6" y="662.5" text-anchor="end" font-size="9" font-weight="bold" fill="#4D4D4D" stroke="#4D4D4D" stroke-width="0.3">TP63_snv</text>
<text x="103.6" y="671.0" text-anchor="end" font-size="9" font-weight="bold" fill="#4D4D4D" stroke="#4D4D4D" stroke-width="0.3">VEGFA_snv</text>
<text x="103.6" y="679.5" text-anchor="end" font-size="9" font-weight="bold" fill="#4D4D4D" stroke="#4D4D4D" stroke-width="0.3">PIK3R1_snv</text>
<text x="103.6" y="688.0" text-anchor="end" font-size="9" font-weight="bold" fill="#4D4D4D" stroke="#4D4D4D" stroke-width="0.3">HIF1A_snv</text>
<text x="103.6" y="696.5" text-anchor="end" font-size="9" font-weight="bold" fill="#4D4D4D" stroke="#4D4D4D" stroke-width="0.3">EGFR_snv</text>
<text x="103.6" y="705.0" text-anchor="end" font-size="9" font-weight="bold" fill="#4D4D4D" stroke="#4D4D4D" stroke-width="0.3">BRAF_snv</text>
<text x="103.6" y="713.6" text-anchor="end" font-size="9" font-weight="bold" fill="#4D4D4D" stroke="#4D4D4D" stroke-width="0.3">FGFR2_snv</text>
<text x="103.6" y="722.1" text-anchor="end" font-size="9" font-weight="bold" fill="#4D4D4D" stroke="#4D4D4D" stroke-width="0.3">PTPN11_snv</text>
<text x="103.6" y="730.6" text-anchor="end" font-size="9" font-weight="bold" fill="#4D4D4D" stroke="#4D4D4D" stroke-width="0.3">DNMT3A_snv</text>
<text x="103.6" y="739.1" text-anchor="end" font-size="9" font-weight="bold" fill="#4D4D4D" stroke="#4D4D4D" stroke-width="0.3">CIC_snv</text>
<text x="103.6" y="747.6" text-anchor="end" font-size="9" font-weight="bold" fill="#4D4D4D" stroke="#4D4D4D" stroke-width="0.3">IDH2_snv</text>
<text x="103.6" y="756.1" text-anchor="end" font-size="9" font-weight="bold" fill="#4D4D4D" stroke="#4D4D4D" stroke-width="0.3">CD70_snv</text>
<text x="103.6" y="764.6" text-anchor="end" font-size="9" font-weight="bold" fill="#4D4D4D" stroke="#4D4D4D" stroke-width="0.3">TRIM26_snv</text>
<text transform="translate(157.3 769.3) rotate(-90)" text-anchor="end" font-size="9" font-weight="bold" fill="#4D4D4D" stroke="#4D4D4D" stroke-width="0.3">0.25</text>
<text transform="translate(201.1 769.3) rotate(-90)" text-anchor="end" font-size="9" font-weight="bold" fill="#4D4D4D" stroke="#4D4D4D" stroke-width="0.3">0.50</text>
<text transform="translate(244.8 769.3) rotate(-90)" text-anchor="end" font-size="9" font-weight="bold" fill="#4D4D4D" stroke="#4D4D4D" stroke-width="0.3">0.75</text>
<text transform="translate(288.5 769.3) rotate(-90)" text-anchor="end" font-size="9" font-weight="bold" fill="#4D4D4D" stroke="#4D4D4D" stroke-width="0.3">1.00</text>
<text x="197.8" y="792.2" text-anchor="middle" font-size="6.3" fill="#222">AF</text>
<text transform="translate(40.8 582.4) rotate(-90)" text-anchor="middle" font-size="6.3" fill="#222">Gene</text>
<text x="355.6" y="434.7" font-size="16" font-weight="bold" fill="#000" stroke="#000" stroke-width="0.35">f.</text>
<rect x="469.2" y="488.3" width="151.5" height="220.1" fill="#fff"/>
<path d="M478.2 488.3V708.4M517.8 488.3V708.4M557.5 488.3V708.4M597.1 488.3V708.4" stroke="#F0F0F0" stroke-width="0.45"/>
<path d="M498.0 488.3V708.4M537.6 488.3V708.4M577.3 488.3V708.4M617.0 488.3V708.4M469.2 495.6H620.7M469.2 508.4H620.7M469.2 521.3H620.7M469.2 534.1H620.7M469.2 546.9H620.7M469.2 559.8H620.7M469.2 572.6H620.7M469.2 585.4H620.7M469.2 598.2H620.7M469.2 611.1H620.7M469.2 623.9H620.7M469.2 636.7H620.7M469.2 649.6H620.7M469.2 662.4H620.7M469.2 675.2H620.7M469.2 688.0H620.7M469.2 700.9H620.7" stroke="#E6E6E6" stroke-width="0.75"/>
<rect x="581.6" y="491.1" width="7.0" height="9.0" fill="#CCCCCC" stroke="#333333" stroke-width="1.5"/>
<path d="M499.6 495.6H610.9" stroke="#333333" stroke-width="1.7"/>
<path d="M584.8 491.1V500.1" stroke="#333333" stroke-width="2.0"/>
<circle cx="499.6" cy="495.6" r="3.2" fill="#333333"/>
<circle cx="597.8" cy="495.6" r="3.2" fill="#333333"/>
<circle cx="610.9" cy="495.6" r="3.2" fill="#333333"/>
<rect x="522.0" y="503.9" width="68.8" height="9.0" fill="#C6C6C6" stroke="#333333" stroke-width="1.5"/>
<path d="M479.9 508.4H614.4" stroke="#333333" stroke-width="1.7"/>
<path d="M582.1 503.9V512.9" stroke="#333333" stroke-width="2.0"/>
<rect x="573.7" y="516.8" width="17.8" height="9.0" fill="#C1C1C1" stroke="#333333" stroke-width="1.5"/>
<path d="M566.2 521.3H602.0" stroke="#333333" stroke-width="1.7"/>
<path d="M581.1 516.8V525.8" stroke="#333333" stroke-width="2.0"/>
<rect x="578.5" y="531.5" width="5.7" height="5.2" rx="2.2" fill="#333333"/>
<path d="M581.1 529.6V538.6" stroke="#333333" stroke-width="2.2" stroke-linecap="round"/>
<path d="M579.1 542.4V551.4" stroke="#333333" stroke-width="2.6" stroke-linecap="round"/>
<rect x="513.4" y="555.2" width="54.6" height="9.0" fill="#AEAEAE" stroke="#333333" stroke-width="1.5"/>
<path d="M486.8 559.8H584.8" stroke="#333333" stroke-width="1.7"/>
<path d="M561.3 555.2V564.2" stroke="#333333" stroke-width="2.0"/>
<rect x="550.6" y="568.1" width="22.4" height="9.0" fill="#A7A7A7" stroke="#333333" stroke-width="1.5"/>
<path d="M543.1 572.6H586.6" stroke="#333333" stroke-width="1.7"/>
<path d="M560.5 568.1V577.1" stroke="#333333" stroke-width="2.0"/>
<path d="M559.3 580.9V589.9" stroke="#333333" stroke-width="2.6" stroke-linecap="round"/>
<path d="M553.1 593.7V602.7" stroke="#333333" stroke-width="2.6" stroke-linecap="round"/>
<path d="M540.2 606.6V615.6" stroke="#333333" stroke-width="2.6" stroke-linecap="round"/>
<rect x="532.5" y="619.4" width="13.6" height="9.0" fill="#878787" stroke="#333333" stroke-width="1.5"/>
<path d="M510.4 623.9H607.0" stroke="#333333" stroke-width="1.7"/>
<path d="M538.9 619.4V628.4" stroke="#333333" stroke-width="2.0"/>
<circle cx="510.4" cy="623.9" r="3.2" fill="#333333"/>
<circle cx="584.8" cy="623.9" r="3.2" fill="#333333"/>
<circle cx="607.0" cy="623.9" r="3.2" fill="#333333"/>
<path d="M536.2 632.2V641.2" stroke="#333333" stroke-width="2.6" stroke-linecap="round"/>
<path d="M535.7 645.1V654.1" stroke="#333333" stroke-width="2.6" stroke-linecap="round"/>
<path d="M534.5 657.9V666.9" stroke="#333333" stroke-width="2.6" stroke-linecap="round"/>
<rect x="495.5" y="670.7" width="75.4" height="9.0" fill="#5A5A5A" stroke="#333333" stroke-width="1.5"/>
<path d="M494.0 675.2H572.4" stroke="#333333" stroke-width="1.7"/>
<path d="M533.2 670.7V679.7" stroke="#333333" stroke-width="2.0"/>
<path d="M517.8 683.5V692.5" stroke="#333333" stroke-width="2.6" stroke-linecap="round"/>
<rect x="494.0" y="696.4" width="47.2" height="9.0" fill="#333333" stroke="#333333" stroke-width="1.5"/>
<path d="M475.4 700.9H582.4" stroke="#333333" stroke-width="1.7"/>
<path d="M494.8 696.4V705.4" stroke="#333333" stroke-width="2.0"/>
<path d="M624.6 484V725" stroke="#EAEAEC" stroke-width="0.8"/>
<path d="M469.2 488.3H620.7" stroke="#A8A8A8" stroke-width="0.7"/>
<path d="M620.7 488.3V708.4" stroke="#666" stroke-width="0.8"/>
<path d="M469.2 488.3V708.4H620.7" fill="none" stroke="#505050" stroke-width="0.9"/>
<path d="M467.0 495.6H469.2M467.0 508.4H469.2M467.0 521.3H469.2M467.0 534.1H469.2M467.0 546.9H469.2M467.0 559.8H469.2M467.0 572.6H469.2M467.0 585.4H469.2M467.0 598.2H469.2M467.0 611.1H469.2M467.0 623.9H469.2M467.0 636.7H469.2M467.0 649.6H469.2M467.0 662.4H469.2M467.0 675.2H469.2M467.0 688.0H469.2M467.0 700.9H469.2M498.0 708.4V710.6M537.6 708.4V710.6M577.3 708.4V710.6M617.0 708.4V710.6" stroke="#333" stroke-width="1.05"/>
<text x="465.6" y="499.2" text-anchor="end" font-size="10.2" font-weight="bold" fill="#4D4D4D" stroke="#4D4D4D" stroke-width="0.3">CDK4_gain</text>
<text x="465.6" y="512.0" text-anchor="end" font-size="10.2" font-weight="bold" fill="#4D4D4D" stroke="#4D4D4D" stroke-width="0.3">EGFR_gain</text>
<text x="465.6" y="524.9" text-anchor="end" font-size="10.2" font-weight="bold" fill="#4D4D4D" stroke="#4D4D4D" stroke-width="0.3">TP53_gain</text>
<text x="465.6" y="537.7" text-anchor="end" font-size="10.2" font-weight="bold" fill="#4D4D4D" stroke="#4D4D4D" stroke-width="0.3">PTEN_Loss</text>
<text x="465.6" y="550.5" text-anchor="end" font-size="10.2" font-weight="bold" fill="#4D4D4D" stroke="#4D4D4D" stroke-width="0.3">PIK3CA_gain</text>
<text x="465.6" y="563.4" text-anchor="end" font-size="10.2" font-weight="bold" fill="#4D4D4D" stroke="#4D4D4D" stroke-width="0.3">PDGFRA_gain</text>
<text x="465.6" y="576.2" text-anchor="end" font-size="10.2" font-weight="bold" fill="#4D4D4D" stroke="#4D4D4D" stroke-width="0.3">ERRFI1_Loss</text>
<text x="465.6" y="589.0" text-anchor="end" font-size="10.2" font-weight="bold" fill="#4D4D4D" stroke="#4D4D4D" stroke-width="0.3">KRAS_gain</text>
<text x="465.6" y="601.8" text-anchor="end" font-size="10.2" font-weight="bold" fill="#4D4D4D" stroke="#4D4D4D" stroke-width="0.3">WRN_gain</text>
<text x="465.6" y="614.7" text-anchor="end" font-size="10.2" font-weight="bold" fill="#4D4D4D" stroke="#4D4D4D" stroke-width="0.3">ERRFI1_gain</text>
<text x="465.6" y="627.5" text-anchor="end" font-size="10.2" font-weight="bold" fill="#4D4D4D" stroke="#4D4D4D" stroke-width="0.3">CDKN2A_Loss</text>
<text x="465.6" y="640.3" text-anchor="end" font-size="10.2" font-weight="bold" fill="#4D4D4D" stroke="#4D4D4D" stroke-width="0.3">VEGFA_gain</text>
<text x="465.6" y="653.2" text-anchor="end" font-size="10.2" font-weight="bold" fill="#4D4D4D" stroke="#4D4D4D" stroke-width="0.3">SETD2_gain</text>
<text x="465.6" y="666.0" text-anchor="end" font-size="10.2" font-weight="bold" fill="#4D4D4D" stroke="#4D4D4D" stroke-width="0.3">EPHB2_gain</text>
<text x="465.6" y="678.8" text-anchor="end" font-size="10.2" font-weight="bold" fill="#4D4D4D" stroke="#4D4D4D" stroke-width="0.3">MDM4_gain</text>
<text x="465.6" y="691.6" text-anchor="end" font-size="10.2" font-weight="bold" fill="#4D4D4D" stroke="#4D4D4D" stroke-width="0.3">FGFR2_gain</text>
<text x="465.6" y="704.5" text-anchor="end" font-size="10.2" font-weight="bold" fill="#4D4D4D" stroke="#4D4D4D" stroke-width="0.3">KDR_gain</text>
<text transform="translate(505.2 711.6) rotate(-90)" text-anchor="end" font-size="10" font-weight="bold" fill="#4D4D4D" stroke="#4D4D4D" stroke-width="0.3">0.0</text>
<text transform="translate(544.9 711.6) rotate(-90)" text-anchor="end" font-size="10" font-weight="bold" fill="#4D4D4D" stroke="#4D4D4D" stroke-width="0.3">0.5</text>
<text transform="translate(584.5 711.6) rotate(-90)" text-anchor="end" font-size="10" font-weight="bold" fill="#4D4D4D" stroke="#4D4D4D" stroke-width="0.3">1.0</text>
<text transform="translate(624.2 711.6) rotate(-90)" text-anchor="end" font-size="10" font-weight="bold" fill="#4D4D4D" stroke="#4D4D4D" stroke-width="0.3">1.5</text>
<text x="544.9" y="733.2" text-anchor="middle" font-size="6.8" fill="#222">BAF</text>
<text transform="translate(390.6 598.2) rotate(-90)" text-anchor="middle" font-size="7.2" fill="#222">Gene</text>
</svg>
</body></html>
